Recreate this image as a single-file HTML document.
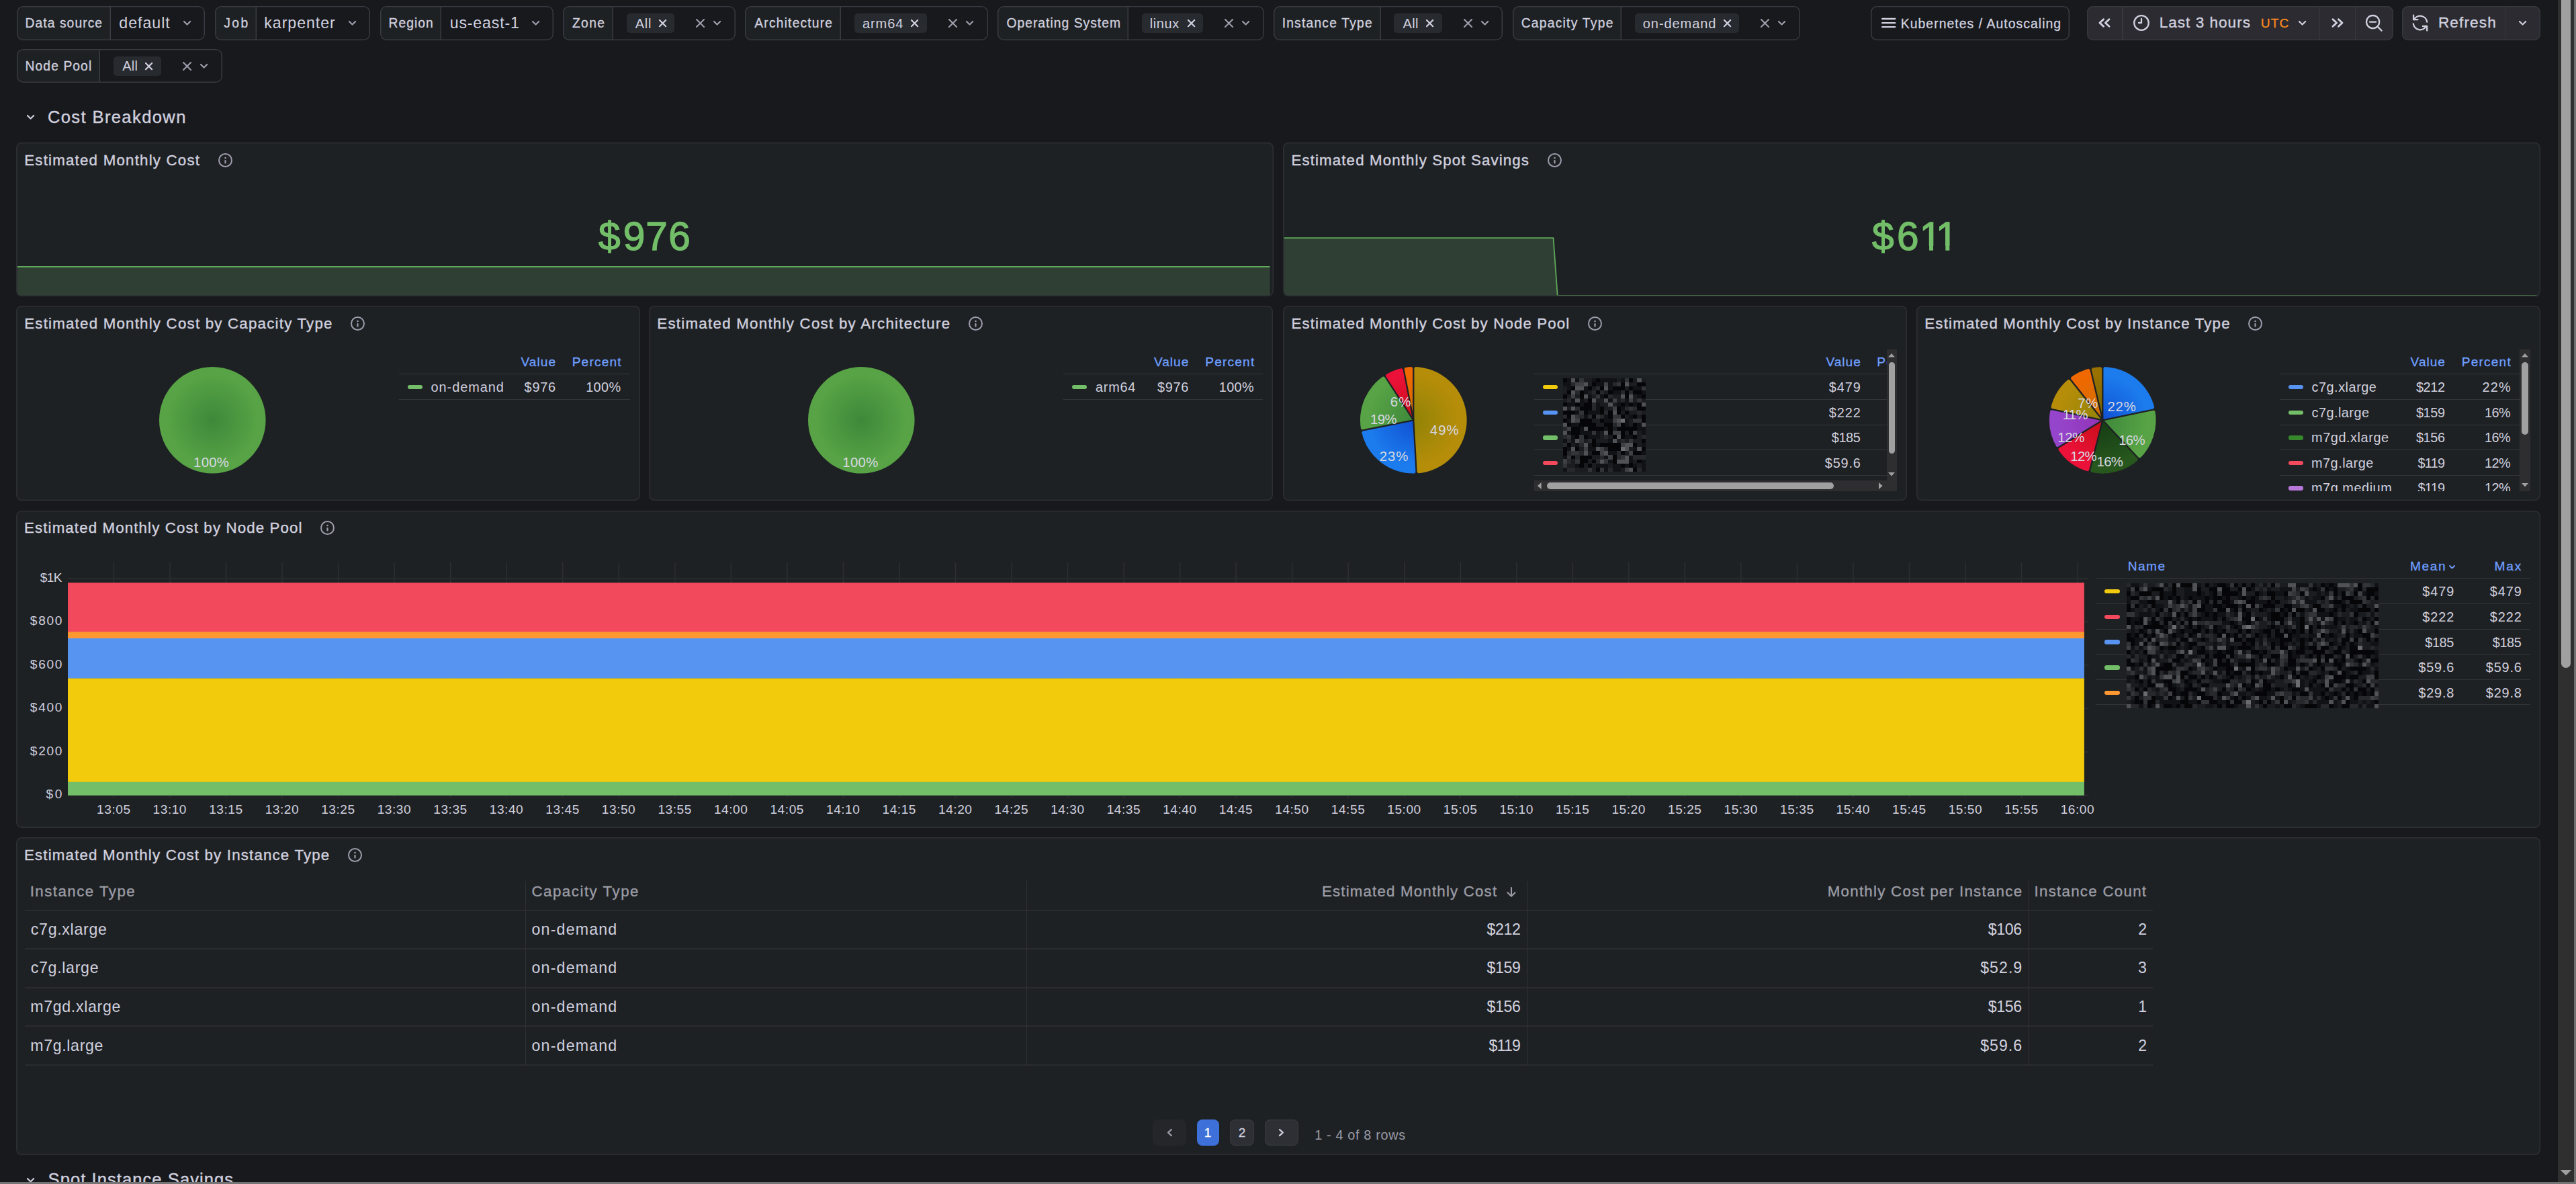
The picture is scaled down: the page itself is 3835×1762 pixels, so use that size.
<!DOCTYPE html>
<html lang="en"><head><meta charset="utf-8"><title>Kubernetes / Autoscaling / Karpenter / Cost</title>
<style>
html,body{margin:0;padding:0;background:#18191d;}
body{width:3835px;height:1762px;overflow:hidden;position:relative;font-family:"Liberation Sans",Arial,sans-serif;}
.b{position:absolute;box-sizing:border-box;}
.t{position:absolute;white-space:pre;}
svg{display:block;overflow:visible;}
</style></head><body>
<main class="b" style="left:0;top:0;width:3835px;height:1762px;overflow:hidden">
<div class="b" style="left:25.20px;top:9.30px;width:279.50px;height:50.30px;background:#18191d;border-radius:9px;overflow:hidden;"><div class="b" style="left:0;top:0;bottom:0;width:139.75px;background:#1e2124;box-shadow:inset -1.5px 0 0 #393b42"></div><div class="b" style="left:0;top:0;right:0;bottom:0;border-radius:inherit;box-shadow:inset 0 0 0 1.5px #393b42"></div></div>
<span class="t" style="left:37.56px;top:25.00px;font-size:19.3px;line-height:19.3px;color:#d0d0df;letter-spacing:1.058px;-webkit-text-stroke:0.3px #d0d0df;">Data source</span>
<span class="t" style="left:177.27px;top:23.00px;font-size:23.19px;line-height:23.19px;color:#d0d0df;letter-spacing:0.977px;">default</span>
<svg class="b" style="left:271.20px;top:29.31px;" width="15.20" height="10.58" viewBox="271.20 29.31 15.20 10.58"><g fill="none" stroke="#9c9dab" stroke-width="2.2" stroke-linecap="round" stroke-linejoin="round"><path d="M274.20 32.31L278.80 36.89L283.40 32.31"/></g></svg>
<div class="b" style="left:320.00px;top:9.30px;width:230.70px;height:50.30px;background:#18191d;border-radius:9px;overflow:hidden;"><div class="b" style="left:0;top:0;bottom:0;width:62.35px;background:#1e2124;box-shadow:inset -1.5px 0 0 #393b42"></div><div class="b" style="left:0;top:0;right:0;bottom:0;border-radius:inherit;box-shadow:inset 0 0 0 1.5px #393b42"></div></div>
<span class="t" style="left:333.31px;top:25.00px;font-size:19.3px;line-height:19.3px;color:#d0d0df;letter-spacing:2.433px;-webkit-text-stroke:0.3px #d0d0df;">Job</span>
<span class="t" style="left:393.29px;top:23.00px;font-size:23.19px;line-height:23.19px;color:#d0d0df;letter-spacing:0.942px;">karpenter</span>
<svg class="b" style="left:517.00px;top:29.31px;" width="15.20" height="10.58" viewBox="517.00 29.31 15.20 10.58"><g fill="none" stroke="#9c9dab" stroke-width="2.2" stroke-linecap="round" stroke-linejoin="round"><path d="M520.00 32.31L524.60 36.89L529.20 32.31"/></g></svg>
<div class="b" style="left:566.10px;top:9.30px;width:257.60px;height:50.30px;background:#18191d;border-radius:9px;overflow:hidden;"><div class="b" style="left:0;top:0;bottom:0;width:91.15px;background:#1e2124;box-shadow:inset -1.5px 0 0 #393b42"></div><div class="b" style="left:0;top:0;right:0;bottom:0;border-radius:inherit;box-shadow:inset 0 0 0 1.5px #393b42"></div></div>
<span class="t" style="left:578.56px;top:25.00px;font-size:19.3px;line-height:19.3px;color:#d0d0df;letter-spacing:1.032px;-webkit-text-stroke:0.3px #d0d0df;">Region</span>
<span class="t" style="left:669.71px;top:23.00px;font-size:23.19px;line-height:23.19px;color:#d0d0df;letter-spacing:0.812px;">us-east-1</span>
<svg class="b" style="left:790.30px;top:29.31px;" width="15.20" height="10.58" viewBox="790.30 29.31 15.20 10.58"><g fill="none" stroke="#9c9dab" stroke-width="2.2" stroke-linecap="round" stroke-linejoin="round"><path d="M793.30 32.31L797.90 36.89L802.50 32.31"/></g></svg>
<div class="b" style="left:838.20px;top:9.30px;width:256.60px;height:50.30px;background:#18191d;border-radius:9px;overflow:hidden;"><div class="b" style="left:0;top:0;bottom:0;width:75.05px;background:#1e2124;box-shadow:inset -1.5px 0 0 #393b42"></div><div class="b" style="left:0;top:0;right:0;bottom:0;border-radius:inherit;box-shadow:inset 0 0 0 1.5px #393b42"></div></div>
<span class="t" style="left:852.02px;top:25.00px;font-size:19.3px;line-height:19.3px;color:#d0d0df;letter-spacing:1.327px;-webkit-text-stroke:0.3px #d0d0df;">Zone</span>
<div class="b" style="left:932.70px;top:20.30px;width:71.30px;height:28.60px;background:#272a2f;border-radius:5px;"></div>
<span class="t" style="left:945.80px;top:25.00px;font-size:20.07px;line-height:20.07px;color:#d0d0df;letter-spacing:0.621px;">All</span>
<svg class="b" style="left:978.60px;top:26.90px;" width="15.20" height="15.20" viewBox="978.60 26.90 15.20 15.20"><g fill="none" stroke="#d0d0df" stroke-width="2.2" stroke-linecap="round" stroke-linejoin="round"><path d="M981.60 29.90L990.80 39.10M990.80 29.90L981.60 39.10"/></g></svg>
<svg class="b" style="left:1034.25px;top:25.75px;" width="17.10" height="17.10" viewBox="1034.25 25.75 17.10 17.10"><g fill="none" stroke="#9c9dab" stroke-width="2.1" stroke-linecap="round" stroke-linejoin="round"><path d="M1037.25 28.75L1048.35 39.85M1048.35 28.75L1037.25 39.85"/></g></svg>
<svg class="b" style="left:1060.40px;top:29.31px;" width="15.20" height="10.58" viewBox="1060.40 29.31 15.20 10.58"><g fill="none" stroke="#9c9dab" stroke-width="2.2" stroke-linecap="round" stroke-linejoin="round"><path d="M1063.40 32.31L1068.00 36.89L1072.60 32.31"/></g></svg>
<div class="b" style="left:1109.10px;top:9.30px;width:361.80px;height:50.30px;background:#18191d;border-radius:9px;overflow:hidden;"><div class="b" style="left:0;top:0;bottom:0;width:143.05px;background:#1e2124;box-shadow:inset -1.5px 0 0 #393b42"></div><div class="b" style="left:0;top:0;right:0;bottom:0;border-radius:inherit;box-shadow:inset 0 0 0 1.5px #393b42"></div></div>
<span class="t" style="left:1123.30px;top:25.00px;font-size:19.3px;line-height:19.3px;color:#d0d0df;letter-spacing:1.174px;-webkit-text-stroke:0.3px #d0d0df;">Architecture</span>
<div class="b" style="left:1271.90px;top:20.30px;width:108.10px;height:28.60px;background:#272a2f;border-radius:5px;"></div>
<span class="t" style="left:1283.90px;top:25.00px;font-size:20.07px;line-height:20.07px;color:#d0d0df;letter-spacing:0.909px;">arm64</span>
<svg class="b" style="left:1354.40px;top:26.90px;" width="15.20" height="15.20" viewBox="1354.40 26.90 15.20 15.20"><g fill="none" stroke="#d0d0df" stroke-width="2.2" stroke-linecap="round" stroke-linejoin="round"><path d="M1357.40 29.90L1366.60 39.10M1366.60 29.90L1357.40 39.10"/></g></svg>
<svg class="b" style="left:1410.25px;top:25.75px;" width="17.10" height="17.10" viewBox="1410.25 25.75 17.10 17.10"><g fill="none" stroke="#9c9dab" stroke-width="2.1" stroke-linecap="round" stroke-linejoin="round"><path d="M1413.25 28.75L1424.35 39.85M1424.35 28.75L1413.25 39.85"/></g></svg>
<svg class="b" style="left:1436.40px;top:29.31px;" width="15.20" height="10.58" viewBox="1436.40 29.31 15.20 10.58"><g fill="none" stroke="#9c9dab" stroke-width="2.2" stroke-linecap="round" stroke-linejoin="round"><path d="M1439.40 32.31L1444.00 36.89L1448.60 32.31"/></g></svg>
<div class="b" style="left:1485.30px;top:9.30px;width:396.50px;height:50.30px;background:#18191d;border-radius:9px;overflow:hidden;"><div class="b" style="left:0;top:0;bottom:0;width:194.75px;background:#1e2124;box-shadow:inset -1.5px 0 0 #393b42"></div><div class="b" style="left:0;top:0;right:0;bottom:0;border-radius:inherit;box-shadow:inset 0 0 0 1.5px #393b42"></div></div>
<span class="t" style="left:1498.43px;top:25.00px;font-size:19.3px;line-height:19.3px;color:#d0d0df;letter-spacing:1.021px;-webkit-text-stroke:0.3px #d0d0df;">Operating System</span>
<div class="b" style="left:1700.10px;top:20.30px;width:90.80px;height:28.60px;background:#272a2f;border-radius:5px;"></div>
<span class="t" style="left:1711.80px;top:25.00px;font-size:20.07px;line-height:20.07px;color:#d0d0df;letter-spacing:0.532px;">linux</span>
<svg class="b" style="left:1765.50px;top:26.90px;" width="15.20" height="15.20" viewBox="1765.50 26.90 15.20 15.20"><g fill="none" stroke="#d0d0df" stroke-width="2.2" stroke-linecap="round" stroke-linejoin="round"><path d="M1768.50 29.90L1777.70 39.10M1777.70 29.90L1768.50 39.10"/></g></svg>
<svg class="b" style="left:1821.15px;top:25.75px;" width="17.10" height="17.10" viewBox="1821.15 25.75 17.10 17.10"><g fill="none" stroke="#9c9dab" stroke-width="2.1" stroke-linecap="round" stroke-linejoin="round"><path d="M1824.15 28.75L1835.25 39.85M1835.25 28.75L1824.15 39.85"/></g></svg>
<svg class="b" style="left:1847.30px;top:29.31px;" width="15.20" height="10.58" viewBox="1847.30 29.31 15.20 10.58"><g fill="none" stroke="#9c9dab" stroke-width="2.2" stroke-linecap="round" stroke-linejoin="round"><path d="M1850.30 32.31L1854.90 36.89L1859.50 32.31"/></g></svg>
<div class="b" style="left:1896.20px;top:9.30px;width:340.50px;height:50.30px;background:#18191d;border-radius:9px;overflow:hidden;"><div class="b" style="left:0;top:0;bottom:0;width:159.85px;background:#1e2124;box-shadow:inset -1.5px 0 0 #393b42"></div><div class="b" style="left:0;top:0;right:0;bottom:0;border-radius:inherit;box-shadow:inset 0 0 0 1.5px #393b42"></div></div>
<span class="t" style="left:1908.66px;top:25.00px;font-size:19.3px;line-height:19.3px;color:#d0d0df;letter-spacing:1.193px;-webkit-text-stroke:0.3px #d0d0df;">Instance Type</span>
<div class="b" style="left:2075.10px;top:20.30px;width:71.70px;height:28.60px;background:#272a2f;border-radius:5px;"></div>
<span class="t" style="left:2088.60px;top:25.00px;font-size:20.07px;line-height:20.07px;color:#d0d0df;letter-spacing:0.321px;">All</span>
<svg class="b" style="left:2120.80px;top:26.90px;" width="15.20" height="15.20" viewBox="2120.80 26.90 15.20 15.20"><g fill="none" stroke="#d0d0df" stroke-width="2.2" stroke-linecap="round" stroke-linejoin="round"><path d="M2123.80 29.90L2133.00 39.10M2133.00 29.90L2123.80 39.10"/></g></svg>
<svg class="b" style="left:2177.05px;top:25.75px;" width="17.10" height="17.10" viewBox="2177.05 25.75 17.10 17.10"><g fill="none" stroke="#9c9dab" stroke-width="2.1" stroke-linecap="round" stroke-linejoin="round"><path d="M2180.05 28.75L2191.15 39.85M2191.15 28.75L2180.05 39.85"/></g></svg>
<svg class="b" style="left:2203.20px;top:29.31px;" width="15.20" height="10.58" viewBox="2203.20 29.31 15.20 10.58"><g fill="none" stroke="#9c9dab" stroke-width="2.2" stroke-linecap="round" stroke-linejoin="round"><path d="M2206.20 32.31L2210.80 36.89L2215.40 32.31"/></g></svg>
<div class="b" style="left:2252.10px;top:9.30px;width:427.50px;height:50.30px;background:#18191d;border-radius:9px;overflow:hidden;"><div class="b" style="left:0;top:0;bottom:0;width:162.25px;background:#1e2124;box-shadow:inset -1.5px 0 0 #393b42"></div><div class="b" style="left:0;top:0;right:0;bottom:0;border-radius:inherit;box-shadow:inset 0 0 0 1.5px #393b42"></div></div>
<span class="t" style="left:2264.63px;top:25.00px;font-size:19.3px;line-height:19.3px;color:#d0d0df;letter-spacing:1.243px;-webkit-text-stroke:0.3px #d0d0df;">Capacity Type</span>
<div class="b" style="left:2433.80px;top:20.30px;width:155.20px;height:28.60px;background:#272a2f;border-radius:5px;"></div>
<span class="t" style="left:2445.80px;top:25.00px;font-size:20.07px;line-height:20.07px;color:#d0d0df;letter-spacing:0.899px;">on-demand</span>
<svg class="b" style="left:2563.80px;top:26.90px;" width="15.20" height="15.20" viewBox="2563.80 26.90 15.20 15.20"><g fill="none" stroke="#d0d0df" stroke-width="2.2" stroke-linecap="round" stroke-linejoin="round"><path d="M2566.80 29.90L2576.00 39.10M2576.00 29.90L2566.80 39.10"/></g></svg>
<svg class="b" style="left:2619.25px;top:25.75px;" width="17.10" height="17.10" viewBox="2619.25 25.75 17.10 17.10"><g fill="none" stroke="#9c9dab" stroke-width="2.1" stroke-linecap="round" stroke-linejoin="round"><path d="M2622.25 28.75L2633.35 39.85M2633.35 28.75L2622.25 39.85"/></g></svg>
<svg class="b" style="left:2645.40px;top:29.31px;" width="15.20" height="10.58" viewBox="2645.40 29.31 15.20 10.58"><g fill="none" stroke="#9c9dab" stroke-width="2.2" stroke-linecap="round" stroke-linejoin="round"><path d="M2648.40 32.31L2653.00 36.89L2657.60 32.31"/></g></svg>
<div class="b" style="left:25.20px;top:73.20px;width:305.60px;height:50.30px;background:#18191d;border-radius:9px;overflow:hidden;"><div class="b" style="left:0;top:0;bottom:0;width:123.95px;background:#1e2124;box-shadow:inset -1.5px 0 0 #393b42"></div><div class="b" style="left:0;top:0;right:0;bottom:0;border-radius:inherit;box-shadow:inset 0 0 0 1.5px #393b42"></div></div>
<span class="t" style="left:37.56px;top:89.00px;font-size:19.3px;line-height:19.3px;color:#d0d0df;letter-spacing:1.076px;-webkit-text-stroke:0.3px #d0d0df;">Node Pool</span>
<div class="b" style="left:169.10px;top:84.20px;width:70.80px;height:28.60px;background:#272a2f;border-radius:5px;"></div>
<span class="t" style="left:182.20px;top:88.00px;font-size:20.07px;line-height:20.07px;color:#d0d0df;letter-spacing:0.271px;">All</span>
<svg class="b" style="left:214.30px;top:90.80px;" width="15.20" height="15.20" viewBox="214.30 90.80 15.20 15.20"><g fill="none" stroke="#d0d0df" stroke-width="2.2" stroke-linecap="round" stroke-linejoin="round"><path d="M217.30 93.80L226.50 103.00M226.50 93.80L217.30 103.00"/></g></svg>
<svg class="b" style="left:270.15px;top:89.65px;" width="17.10" height="17.10" viewBox="270.15 89.65 17.10 17.10"><g fill="none" stroke="#9c9dab" stroke-width="2.1" stroke-linecap="round" stroke-linejoin="round"><path d="M273.15 92.65L284.25 103.75M284.25 92.65L273.15 103.75"/></g></svg>
<svg class="b" style="left:296.30px;top:93.21px;" width="15.20" height="10.58" viewBox="296.30 93.21 15.20 10.58"><g fill="none" stroke="#9c9dab" stroke-width="2.2" stroke-linecap="round" stroke-linejoin="round"><path d="M299.30 96.21L303.90 100.79L308.50 96.21"/></g></svg>
<div class="b" style="left:2785.10px;top:9.30px;width:295.90px;height:50.30px;background:#18191d;border-radius:9px;"><div class="b" style="left:0;top:0;right:0;bottom:0;border-radius:inherit;box-shadow:inset 0 0 0 1.5px #393b42"></div></div>
<svg class="b" style="left:2798.00px;top:24.00px;" width="28.00" height="21.00" viewBox="2798.00 24.00 28.00 21.00"><path d="M2802.2 28H2821.3M2802.2 34.2H2821.3M2802.2 40.2H2821.3" stroke="#d0d0df" stroke-width="2.3" stroke-linecap="round"/></svg>
<span class="t" style="left:2829.75px;top:26.00px;font-size:19.4px;line-height:19.4px;color:#d0d0df;letter-spacing:1.035px;-webkit-text-stroke:0.3px #d0d0df;">Kubernetes / Autoscaling</span>
<div class="b" style="left:3107.00px;top:8.80px;width:456.00px;height:51.20px;background:#2b2b31;border-radius:9px;"><div class="b" style="left:52.45px;top:0;bottom:0;width:1.5px;background:#37373e"></div><div class="b" style="left:345.55px;top:0;bottom:0;width:1.5px;background:#37373e"></div><div class="b" style="left:398.65px;top:0;bottom:0;width:1.5px;background:#37373e"></div><div class="b" style="left:0;top:0;right:0;bottom:0;border-radius:inherit;box-shadow:inset 0 0 0 1.5px #37373e"></div></div>
<svg class="b" style="left:3121.30px;top:24.30px;" width="24.00" height="20.00" viewBox="3121.30 24.30 24.00 20.00"><g fill="none" stroke="#d0d0df" stroke-width="2.9" stroke-linecap="round" stroke-linejoin="round"><path d="M3131.90 29.00L3126.30 34.30L3131.90 39.60"/><path d="M3140.30 29.00L3134.70 34.30L3140.30 39.60"/></g></svg>
<svg class="b" style="left:3174.30px;top:20.20px;" width="28.00" height="28.00" viewBox="3174.30 20.20 28.00 28.00"><g fill="none" stroke="#d0d0df" stroke-width="2.3" stroke-linecap="round" stroke-linejoin="round"><circle cx="3188.3" cy="34.2" r="10.8"/><path d="M3188.3 28.200000000000003V34.2H3184.3"/></g></svg>
<span class="t" style="left:3214.69px;top:23.00px;font-size:22.6px;line-height:22.6px;color:#d0d0df;letter-spacing:0.993px;-webkit-text-stroke:0.35px #d0d0df;">Last 3 hours</span>
<span class="t" style="left:3365.86px;top:25.00px;font-size:19.2px;line-height:19.2px;color:#fb8a1e;letter-spacing:1.047px;-webkit-text-stroke:0.3px #fb8a1e;">UTC</span>
<svg class="b" style="left:3419.60px;top:29.11px;" width="15.20" height="10.58" viewBox="3419.60 29.11 15.20 10.58"><g fill="none" stroke="#d0d0df" stroke-width="2.2" stroke-linecap="round" stroke-linejoin="round"><path d="M3422.60 32.11L3427.20 36.69L3431.80 32.11"/></g></svg>
<svg class="b" style="left:3468.20px;top:24.30px;" width="24.00" height="20.00" viewBox="3468.20 24.30 24.00 20.00"><g fill="none" stroke="#d0d0df" stroke-width="2.9" stroke-linecap="round" stroke-linejoin="round"><path d="M3473.20 29.00L3478.80 34.30L3473.20 39.60"/><path d="M3481.60 29.00L3487.20 34.30L3481.60 39.60"/></g></svg>
<svg class="b" style="left:3518.00px;top:18.00px;" width="32.00" height="32.00" viewBox="3518.00 18.00 32.00 32.00"><g fill="none" stroke="#d0d0df" stroke-width="2.3" stroke-linecap="round"><circle cx="3532.6" cy="32.6" r="9.6"/><path d="M3528.0 32.6H3537.2M3539.7999999999997 39.800000000000004L3545.6 45.6"/></g></svg>
<div class="b" style="left:3576.20px;top:8.80px;width:205.70px;height:51.20px;background:#2b2b31;border-radius:9px;"><div class="b" style="left:152.35px;top:0;bottom:0;width:1.5px;background:#37373e"></div><div class="b" style="left:0;top:0;right:0;bottom:0;border-radius:inherit;box-shadow:inset 0 0 0 1.5px #37373e"></div></div>
<svg class="b" style="left:3588.40px;top:19.30px;" width="30.00" height="30.00" viewBox="3588.40 19.30 30.00 30.00"><g fill="none" stroke="#d0d0df" stroke-width="2.3" stroke-linecap="round" stroke-linejoin="round"><path d="M3594.31 29.46A10.3 10.3 0 0 1 3613.60 32.87"/><path d="M3612.49 39.14A10.3 10.3 0 0 1 3593.20 35.73"/><path d="M3593.50 22.90V29.50H3599.80"/><path d="M3613.60 45.90V39.30H3607.30"/></g></svg>
<span class="t" style="left:3629.89px;top:23.00px;font-size:22.6px;line-height:22.6px;color:#d0d0df;letter-spacing:1.126px;-webkit-text-stroke:0.35px #d0d0df;">Refresh</span>
<svg class="b" style="left:3748.20px;top:29.11px;" width="15.20" height="10.58" viewBox="3748.20 29.11 15.20 10.58"><g fill="none" stroke="#d0d0df" stroke-width="2.2" stroke-linecap="round" stroke-linejoin="round"><path d="M3751.20 32.11L3755.80 36.69L3760.40 32.11"/></g></svg>
<svg class="b" style="left:38.30px;top:169.21px;" width="15.20" height="10.58" viewBox="38.30 169.21 15.20 10.58"><g fill="none" stroke="#d0d0df" stroke-width="2.2" stroke-linecap="round" stroke-linejoin="round"><path d="M41.30 172.21L45.90 176.79L50.50 172.21"/></g></svg>
<span class="t" style="left:70.92px;top:162.00px;font-size:25.6px;line-height:25.6px;color:#d0d0df;letter-spacing:1.363px;-webkit-text-stroke:0.4px #d0d0df;">Cost Breakdown</span>
<svg class="b" style="left:37.80px;top:1751.21px;" width="15.20" height="10.58" viewBox="37.80 1751.21 15.20 10.58"><g fill="none" stroke="#d0d0df" stroke-width="2.2" stroke-linecap="round" stroke-linejoin="round"><path d="M40.80 1754.21L45.40 1758.79L50.00 1754.21"/></g></svg>
<span class="t" style="left:71.55px;top:1743.00px;font-size:25.6px;line-height:25.6px;color:#d0d0df;letter-spacing:1.045px;-webkit-text-stroke:0.4px #d0d0df;">Spot Instance Savings</span>
<div class="b" style="left:24.40px;top:212.20px;width:1871.60px;height:228.80px;background:#1e2124;border-radius:8px;overflow:hidden;"><svg class="b" style="left:0;top:0" width="1871.6" height="228.8" viewBox="24.4 212.2 1871.6 228.8"><path d="M26 397.2H1891V441H26Z" fill="#2f3f33"/><path d="M26 397.2H1891" stroke="#5fa85a" stroke-width="2" fill="none"/></svg><div class="b" style="left:0;top:0;right:0;bottom:0;border-radius:inherit;box-shadow:inset 0 0 0 1.5px #2d2f35"></div></div>
<span class="t" style="left:36.22px;top:228.00px;font-size:22.3px;line-height:22.3px;color:#d0d0df;letter-spacing:1.208px;-webkit-text-stroke:0.4px #d0d0df;">Estimated Monthly Cost</span>
<svg class="b" style="left:323.40px;top:226.10px;" width="25.00" height="25.00" viewBox="323.40 226.10 25.00 25.00"><circle cx="335.9" cy="238.6" r="9.50" fill="none" stroke="#9c9dab" stroke-width="2"/><path d="M335.9 239.30V242.60" stroke="#9c9dab" stroke-width="2.2" stroke-linecap="round"/><circle cx="335.9" cy="235.10" r="1.3" fill="#9c9dab"/></svg>
<svg class="b" style="left:886.44px;top:313.40px;" width="167.81" height="76.18" viewBox="886.44 313.40 167.81 76.18"><text x="891.44 928.09 961.69 995.65" y="372" font-family="Liberation Sans, Arial, sans-serif" font-size="58.6" fill="#73bf69" stroke="#73bf69" stroke-width="1.3">$976</text></svg>
<div class="b" style="left:1910.30px;top:212.20px;width:1871.30px;height:228.80px;background:#1e2124;border-radius:8px;overflow:hidden;"><svg class="b" style="left:0;top:0" width="1871.3" height="228.8" viewBox="1910.3 212.2 1871.3 228.8"><path d="M1912 354.3H2312.8L2319 440.1H3780V441H1912Z" fill="#2f3f33"/><path d="M1912 354.3H2312.8L2319 440.1H3780" stroke="#5fa85a" stroke-width="1.8" fill="none" stroke-linejoin="round"/></svg><div class="b" style="left:0;top:0;right:0;bottom:0;border-radius:inherit;box-shadow:inset 0 0 0 1.5px #2d2f35"></div></div>
<span class="t" style="left:1922.42px;top:228.00px;font-size:22.3px;line-height:22.3px;color:#d0d0df;letter-spacing:1.125px;-webkit-text-stroke:0.4px #d0d0df;">Estimated Monthly Spot Savings</span>
<svg class="b" style="left:2301.70px;top:226.10px;" width="25.00" height="25.00" viewBox="2301.70 226.10 25.00 25.00"><circle cx="2314.2" cy="238.6" r="9.50" fill="none" stroke="#9c9dab" stroke-width="2"/><path d="M2314.2 239.30V242.60" stroke="#9c9dab" stroke-width="2.2" stroke-linecap="round"/><circle cx="2314.2" cy="235.10" r="1.3" fill="#9c9dab"/></svg>
<svg class="b" style="left:2782.44px;top:313.40px;" width="158.66" height="76.18" viewBox="2782.44 313.40 158.66 76.18"><text x="2787.44 2824.35 2858.20 2882.50" y="372" font-family="Liberation Sans, Arial, sans-serif" font-size="58.6" fill="#73bf69" stroke="#73bf69" stroke-width="1.3">$611</text><rect x="2861.20" y="366.30" width="11.30" height="8.00" fill="#1e2124"/><rect x="2878.50" y="366.30" width="11.00" height="8.00" fill="#1e2124"/><rect x="2885.50" y="366.30" width="11.30" height="8.00" fill="#1e2124"/><rect x="2902.80" y="366.30" width="11.00" height="8.00" fill="#1e2124"/></svg>
<div class="b" style="left:24.40px;top:455.40px;width:928.40px;height:290.10px;background:#1e2124;border-radius:8px;overflow:hidden;"><div class="b" style="left:0;top:0;right:0;bottom:0;border-radius:inherit;box-shadow:inset 0 0 0 1.5px #2d2f35"></div></div>
<span class="t" style="left:36.22px;top:471.00px;font-size:22.3px;line-height:22.3px;color:#d0d0df;letter-spacing:1.210px;-webkit-text-stroke:0.4px #d0d0df;">Estimated Monthly Cost by Capacity Type</span>
<svg class="b" style="left:520.30px;top:469.30px;" width="25.00" height="25.00" viewBox="520.30 469.30 25.00 25.00"><circle cx="532.8" cy="481.79999999999995" r="9.50" fill="none" stroke="#9c9dab" stroke-width="2"/><path d="M532.8 482.50V485.80" stroke="#9c9dab" stroke-width="2.2" stroke-linecap="round"/><circle cx="532.8" cy="478.30" r="1.3" fill="#9c9dab"/></svg>
<svg class="b" style="left:232.60px;top:542.10px;" width="166.60" height="166.60" viewBox="232.60 542.10 166.60 166.60"><defs><radialGradient id="ga0" gradientUnits="userSpaceOnUse" cx="315.9" cy="625.4" r="79.3"><stop offset="0" stop-color="#3e883a"/><stop offset="0.85" stop-color="#57a345"/><stop offset="1" stop-color="#57a345"/></radialGradient></defs><circle cx="315.9" cy="625.4" r="79.3" fill="url(#ga0)"/></svg>
<span class="t" style="left:288.07px;top:678.00px;font-size:20.38px;line-height:20.38px;color:#d8d8e2;letter-spacing:0.266px;">100%</span>
<span class="t" style="left:775.50px;top:529.00px;font-size:19.1px;line-height:19.1px;color:#6e9fff;letter-spacing:1.038px;-webkit-text-stroke:0.3px #6e9fff;">Value</span>
<span class="t" style="left:851.67px;top:529.00px;font-size:19.1px;line-height:19.1px;color:#6e9fff;letter-spacing:1.193px;-webkit-text-stroke:0.3px #6e9fff;">Percent</span>
<div class="b" style="left:594.00px;top:556.00px;width:344.00px;height:1.00px;background:#33353b;"></div>
<div class="b" style="left:594.00px;top:594.00px;width:344.00px;height:1.00px;background:#33353b;"></div>
<div class="b" style="left:606.90px;top:572.70px;width:22.20px;height:6.60px;background:#73bf69;border-radius:3.3px;"></div>
<span class="t" style="left:641.51px;top:567.00px;font-size:19.86px;line-height:19.86px;color:#d0d0df;letter-spacing:0.991px;">on-demand</span>
<span class="t" style="left:780.60px;top:567.00px;font-size:19.86px;line-height:19.86px;color:#d0d0df;letter-spacing:0.778px;">$976</span>
<span class="t" style="left:872.21px;top:567.00px;font-size:19.86px;line-height:19.86px;color:#d0d0df;letter-spacing:0.357px;">100%</span>
<div class="b" style="left:966.30px;top:455.40px;width:928.40px;height:290.10px;background:#1e2124;border-radius:8px;overflow:hidden;"><div class="b" style="left:0;top:0;right:0;bottom:0;border-radius:inherit;box-shadow:inset 0 0 0 1.5px #2d2f35"></div></div>
<span class="t" style="left:978.32px;top:471.00px;font-size:22.3px;line-height:22.3px;color:#d0d0df;letter-spacing:1.260px;-webkit-text-stroke:0.4px #d0d0df;">Estimated Monthly Cost by Architecture</span>
<svg class="b" style="left:1439.70px;top:469.30px;" width="25.00" height="25.00" viewBox="1439.70 469.30 25.00 25.00"><circle cx="1452.2" cy="481.79999999999995" r="9.50" fill="none" stroke="#9c9dab" stroke-width="2"/><path d="M1452.2 482.50V485.80" stroke="#9c9dab" stroke-width="2.2" stroke-linecap="round"/><circle cx="1452.2" cy="478.30" r="1.3" fill="#9c9dab"/></svg>
<svg class="b" style="left:1199.10px;top:542.30px;" width="166.60" height="166.60" viewBox="1199.10 542.30 166.60 166.60"><defs><radialGradient id="gb0" gradientUnits="userSpaceOnUse" cx="1282.4" cy="625.6" r="79.3"><stop offset="0" stop-color="#3e883a"/><stop offset="0.85" stop-color="#57a345"/><stop offset="1" stop-color="#57a345"/></radialGradient></defs><circle cx="1282.4" cy="625.6" r="79.3" fill="url(#gb0)"/></svg>
<span class="t" style="left:1254.37px;top:678.00px;font-size:20.38px;line-height:20.38px;color:#d8d8e2;letter-spacing:0.266px;">100%</span>
<span class="t" style="left:1717.90px;top:529.00px;font-size:19.1px;line-height:19.1px;color:#6e9fff;letter-spacing:1.013px;-webkit-text-stroke:0.3px #6e9fff;">Value</span>
<span class="t" style="left:1794.27px;top:529.00px;font-size:19.1px;line-height:19.1px;color:#6e9fff;letter-spacing:1.193px;-webkit-text-stroke:0.3px #6e9fff;">Percent</span>
<div class="b" style="left:1583.00px;top:556.00px;width:297.00px;height:1.00px;background:#33353b;"></div>
<div class="b" style="left:1583.00px;top:594.00px;width:297.00px;height:1.00px;background:#33353b;"></div>
<div class="b" style="left:1596.30px;top:572.70px;width:22.20px;height:6.60px;background:#73bf69;border-radius:3.3px;"></div>
<span class="t" style="left:1630.91px;top:567.00px;font-size:19.86px;line-height:19.86px;color:#d0d0df;letter-spacing:0.805px;">arm64</span>
<span class="t" style="left:1722.90px;top:567.00px;font-size:19.86px;line-height:19.86px;color:#d0d0df;letter-spacing:0.778px;">$976</span>
<span class="t" style="left:1814.81px;top:567.00px;font-size:19.86px;line-height:19.86px;color:#d0d0df;letter-spacing:0.357px;">100%</span>
<div class="b" style="left:1910.30px;top:455.40px;width:928.40px;height:290.10px;background:#1e2124;border-radius:8px;overflow:hidden;"><div class="b" style="left:0;top:0;right:0;bottom:0;border-radius:inherit;box-shadow:inset 0 0 0 1.5px #2d2f35"></div></div>
<span class="t" style="left:1922.42px;top:471.00px;font-size:22.3px;line-height:22.3px;color:#d0d0df;letter-spacing:1.129px;-webkit-text-stroke:0.4px #d0d0df;">Estimated Monthly Cost by Node Pool</span>
<svg class="b" style="left:2361.80px;top:469.30px;" width="25.00" height="25.00" viewBox="2361.80 469.30 25.00 25.00"><circle cx="2374.3" cy="481.79999999999995" r="9.50" fill="none" stroke="#9c9dab" stroke-width="2"/><path d="M2374.3 482.50V485.80" stroke="#9c9dab" stroke-width="2.2" stroke-linecap="round"/><circle cx="2374.3" cy="478.30" r="1.3" fill="#9c9dab"/></svg>
<svg class="b" style="left:2020.90px;top:542.10px;" width="166.60" height="166.60" viewBox="2020.90 542.10 166.60 166.60"><defs><radialGradient id="gc0" gradientUnits="userSpaceOnUse" cx="2104.2" cy="625.4" r="79.3"><stop offset="0" stop-color="#918307"/><stop offset="0.85" stop-color="#b58d09"/><stop offset="1" stop-color="#b58d09"/></radialGradient><radialGradient id="gc1" gradientUnits="userSpaceOnUse" cx="2104.2" cy="625.4" r="79.3"><stop offset="0" stop-color="#1050d3"/><stop offset="0.85" stop-color="#1c7ced"/><stop offset="1" stop-color="#1c7ced"/></radialGradient><radialGradient id="gc2" gradientUnits="userSpaceOnUse" cx="2104.2" cy="625.4" r="79.3"><stop offset="0" stop-color="#3e883a"/><stop offset="0.85" stop-color="#57a345"/><stop offset="1" stop-color="#57a345"/></radialGradient><radialGradient id="gc3" gradientUnits="userSpaceOnUse" cx="2104.2" cy="625.4" r="79.3"><stop offset="0" stop-color="#c70e17"/><stop offset="0.85" stop-color="#eb1138"/><stop offset="1" stop-color="#eb1138"/></radialGradient><radialGradient id="gc4" gradientUnits="userSpaceOnUse" cx="2104.2" cy="625.4" r="79.3"><stop offset="0" stop-color="#c97200"/><stop offset="0.85" stop-color="#ef6800"/><stop offset="1" stop-color="#ef6800"/></radialGradient></defs><path d="M2104.2 625.4L2104.20 546.10A79.3 79.3 0 0 1 2108.64 704.58Z" fill="url(#gc0)"/><path d="M2104.2 625.4L2108.64 704.58A79.3 79.3 0 0 1 2026.43 640.91Z" fill="url(#gc1)"/><path d="M2104.2 625.4L2026.43 640.91A79.3 79.3 0 0 1 2061.02 558.89Z" fill="url(#gc2)"/><path d="M2104.2 625.4L2061.02 558.89A79.3 79.3 0 0 1 2089.07 547.56Z" fill="url(#gc3)"/><path d="M2104.2 625.4L2089.07 547.56A79.3 79.3 0 0 1 2104.20 546.10Z" fill="url(#gc4)"/><path d="M2104.2 625.4L2104.20 544.60" stroke="#1e2124" stroke-width="2.3"/><circle cx="2104.20" cy="545.20" r="2.7" fill="#1e2124"/><path d="M2104.2 625.4L2108.73 706.07" stroke="#1e2124" stroke-width="2.3"/><circle cx="2108.69" cy="705.47" r="2.7" fill="#1e2124"/><path d="M2104.2 625.4L2024.96 641.20" stroke="#1e2124" stroke-width="2.3"/><circle cx="2025.55" cy="641.08" r="2.7" fill="#1e2124"/><path d="M2104.2 625.4L2060.20 557.63" stroke="#1e2124" stroke-width="2.3"/><circle cx="2060.53" cy="558.14" r="2.7" fill="#1e2124"/><path d="M2104.2 625.4L2088.78 546.08" stroke="#1e2124" stroke-width="2.3"/><circle cx="2088.90" cy="546.67" r="2.7" fill="#1e2124"/></svg>
<span class="t" style="left:2128.79px;top:630.00px;font-size:20.38px;line-height:20.38px;color:#d8d8e2;letter-spacing:1.057px;">49%</span>
<span class="t" style="left:2053.68px;top:669.00px;font-size:20.38px;line-height:20.38px;color:#d8d8e2;letter-spacing:0.962px;">23%</span>
<span class="t" style="left:2040.07px;top:614.00px;font-size:20.38px;line-height:20.38px;color:#d8d8e2;letter-spacing:-0.633px;">19%</span>
<span class="t" style="left:2069.68px;top:588.00px;font-size:20.38px;line-height:20.38px;color:#d8d8e2;letter-spacing:1.359px;">6%</span>
<span class="t" style="left:2718.40px;top:529.00px;font-size:19.1px;line-height:19.1px;color:#6e9fff;letter-spacing:0.988px;-webkit-text-stroke:0.3px #6e9fff;">Value</span>
<div class="b" style="left:2780px;top:520px;width:28.6px;height:36px;overflow:hidden"><div class="b" style="left:-2780px;top:-520px">
<span class="t" style="left:2794.27px;top:529.00px;font-size:19.1px;line-height:19.1px;color:#6e9fff;letter-spacing:1.193px;-webkit-text-stroke:0.3px #6e9fff;">Percent</span>
</div></div>
<div class="b" style="left:2284.00px;top:556.00px;width:525.00px;height:1.00px;background:#33353b;"></div>
<div class="b" style="left:2284.00px;top:594.00px;width:525.00px;height:1.00px;background:#33353b;"></div>
<div class="b" style="left:2284.00px;top:632.00px;width:525.00px;height:1.00px;background:#33353b;"></div>
<div class="b" style="left:2284.00px;top:669.00px;width:525.00px;height:1.00px;background:#33353b;"></div>
<div class="b" style="left:2284.00px;top:707.00px;width:525.00px;height:1.00px;background:#33353b;"></div>
<div class="b" style="left:2297.30px;top:572.85px;width:21.60px;height:6.60px;background:#f2cc0c;border-radius:3.3px;"></div>
<span class="t" style="left:2722.67px;top:567.00px;font-size:19.86px;line-height:19.86px;color:#d0d0df;letter-spacing:1.020px;">$479</span>
<div class="b" style="left:2297.30px;top:610.65px;width:21.60px;height:6.60px;background:#5794f2;border-radius:3.3px;"></div>
<span class="t" style="left:2722.67px;top:605.00px;font-size:19.86px;line-height:19.86px;color:#d0d0df;letter-spacing:1.020px;">$222</span>
<div class="b" style="left:2297.30px;top:648.20px;width:21.60px;height:6.60px;background:#73bf69;border-radius:3.3px;"></div>
<span class="t" style="left:2726.69px;top:642.00px;font-size:19.86px;line-height:19.86px;color:#d0d0df;letter-spacing:-0.350px;">$185</span>
<div class="b" style="left:2297.30px;top:685.65px;width:21.60px;height:6.60px;background:#f2495c;border-radius:3.3px;"></div>
<span class="t" style="left:2716.75px;top:680.00px;font-size:19.86px;line-height:19.86px;color:#d0d0df;letter-spacing:0.841px;">$59.6</span>
<svg class="b" style="left:2327.10px;top:562.90px;shape-rendering:crispEdges;" width="122.70" height="138.60" viewBox="2327.10 562.90 122.70 138.60"><rect x="2327.1" y="562.9" width="122.70000000000027" height="138.60000000000002" fill="#111215"/><path d="M2327.1 562.9h6.14v6.03h-6.14zM2376.2 562.9h6.14v6.03h-6.14zM2425.3 562.9h6.14v6.03h-6.14zM2370.0 568.9h6.14v6.03h-6.14zM2413.0 568.9h6.14v6.03h-6.14zM2437.5 568.9h6.14v6.03h-6.14zM2443.7 568.9h6.14v6.03h-6.14zM2339.4 575.0h6.14v6.03h-6.14zM2363.9 575.0h6.14v6.03h-6.14zM2382.3 575.0h6.14v6.03h-6.14zM2400.7 575.0h6.14v6.03h-6.14zM2406.9 575.0h6.14v6.03h-6.14zM2413.0 575.0h6.14v6.03h-6.14zM2425.3 575.0h6.14v6.03h-6.14zM2333.2 581.0h6.14v6.03h-6.14zM2351.6 581.0h6.14v6.03h-6.14zM2376.2 581.0h6.14v6.03h-6.14zM2394.6 581.0h6.14v6.03h-6.14zM2419.1 581.0h6.14v6.03h-6.14zM2431.4 581.0h6.14v6.03h-6.14zM2437.5 581.0h6.14v6.03h-6.14zM2327.1 587.0h6.14v6.03h-6.14zM2351.6 587.0h6.14v6.03h-6.14zM2388.4 587.0h6.14v6.03h-6.14zM2419.1 587.0h6.14v6.03h-6.14zM2443.7 587.0h6.14v6.03h-6.14zM2363.9 593.0h6.14v6.03h-6.14zM2327.1 599.1h6.14v6.03h-6.14zM2345.5 599.1h6.14v6.03h-6.14zM2357.8 599.1h6.14v6.03h-6.14zM2363.9 599.1h6.14v6.03h-6.14zM2413.0 599.1h6.14v6.03h-6.14zM2425.3 599.1h6.14v6.03h-6.14zM2437.5 599.1h6.14v6.03h-6.14zM2351.6 605.1h6.14v6.03h-6.14zM2357.8 605.1h6.14v6.03h-6.14zM2363.9 605.1h6.14v6.03h-6.14zM2382.3 605.1h6.14v6.03h-6.14zM2406.9 605.1h6.14v6.03h-6.14zM2437.5 605.1h6.14v6.03h-6.14zM2443.7 605.1h6.14v6.03h-6.14zM2327.1 611.1h6.14v6.03h-6.14zM2333.2 611.1h6.14v6.03h-6.14zM2339.4 611.1h6.14v6.03h-6.14zM2357.8 611.1h6.14v6.03h-6.14zM2382.3 611.1h6.14v6.03h-6.14zM2394.6 611.1h6.14v6.03h-6.14zM2406.9 611.1h6.14v6.03h-6.14zM2419.1 611.1h6.14v6.03h-6.14zM2333.2 617.1h6.14v6.03h-6.14zM2370.0 617.1h6.14v6.03h-6.14zM2394.6 617.1h6.14v6.03h-6.14zM2413.0 617.1h6.14v6.03h-6.14zM2431.4 617.1h6.14v6.03h-6.14zM2443.7 617.1h6.14v6.03h-6.14zM2327.1 623.2h6.14v6.03h-6.14zM2351.6 623.2h6.14v6.03h-6.14zM2357.8 623.2h6.14v6.03h-6.14zM2363.9 623.2h6.14v6.03h-6.14zM2382.3 623.2h6.14v6.03h-6.14zM2443.7 623.2h6.14v6.03h-6.14zM2333.2 629.2h6.14v6.03h-6.14zM2351.6 629.2h6.14v6.03h-6.14zM2357.8 629.2h6.14v6.03h-6.14zM2363.9 629.2h6.14v6.03h-6.14zM2370.0 629.2h6.14v6.03h-6.14zM2388.4 629.2h6.14v6.03h-6.14zM2394.6 629.2h6.14v6.03h-6.14zM2413.0 629.2h6.14v6.03h-6.14zM2431.4 629.2h6.14v6.03h-6.14zM2339.4 635.2h6.14v6.03h-6.14zM2345.5 635.2h6.14v6.03h-6.14zM2363.9 635.2h6.14v6.03h-6.14zM2370.0 635.2h6.14v6.03h-6.14zM2376.2 635.2h6.14v6.03h-6.14zM2382.3 635.2h6.14v6.03h-6.14zM2394.6 635.2h6.14v6.03h-6.14zM2406.9 635.2h6.14v6.03h-6.14zM2413.0 635.2h6.14v6.03h-6.14zM2419.1 635.2h6.14v6.03h-6.14zM2425.3 635.2h6.14v6.03h-6.14zM2431.4 635.2h6.14v6.03h-6.14zM2339.4 641.2h6.14v6.03h-6.14zM2345.5 641.2h6.14v6.03h-6.14zM2394.6 641.2h6.14v6.03h-6.14zM2413.0 641.2h6.14v6.03h-6.14zM2425.3 641.2h6.14v6.03h-6.14zM2345.5 647.3h6.14v6.03h-6.14zM2357.8 647.3h6.14v6.03h-6.14zM2400.7 647.3h6.14v6.03h-6.14zM2413.0 647.3h6.14v6.03h-6.14zM2431.4 647.3h6.14v6.03h-6.14zM2370.0 653.3h6.14v6.03h-6.14zM2443.7 653.3h6.14v6.03h-6.14zM2333.2 659.3h6.14v6.03h-6.14zM2370.0 659.3h6.14v6.03h-6.14zM2382.3 659.3h6.14v6.03h-6.14zM2388.4 659.3h6.14v6.03h-6.14zM2394.6 659.3h6.14v6.03h-6.14zM2400.7 659.3h6.14v6.03h-6.14zM2406.9 659.3h6.14v6.03h-6.14zM2431.4 659.3h6.14v6.03h-6.14zM2327.1 665.3h6.14v6.03h-6.14zM2345.5 665.3h6.14v6.03h-6.14zM2394.6 665.3h6.14v6.03h-6.14zM2400.7 665.3h6.14v6.03h-6.14zM2406.9 665.3h6.14v6.03h-6.14zM2443.7 665.3h6.14v6.03h-6.14zM2327.1 671.4h6.14v6.03h-6.14zM2370.0 671.4h6.14v6.03h-6.14zM2376.2 671.4h6.14v6.03h-6.14zM2413.0 671.4h6.14v6.03h-6.14zM2431.4 671.4h6.14v6.03h-6.14zM2437.5 671.4h6.14v6.03h-6.14zM2339.4 677.4h6.14v6.03h-6.14zM2351.6 677.4h6.14v6.03h-6.14zM2357.8 677.4h6.14v6.03h-6.14zM2363.9 677.4h6.14v6.03h-6.14zM2400.7 677.4h6.14v6.03h-6.14zM2351.6 683.4h6.14v6.03h-6.14zM2357.8 683.4h6.14v6.03h-6.14zM2370.0 683.4h6.14v6.03h-6.14zM2400.7 683.4h6.14v6.03h-6.14zM2437.5 683.4h6.14v6.03h-6.14zM2351.6 689.4h6.14v6.03h-6.14zM2363.9 689.4h6.14v6.03h-6.14zM2413.0 689.4h6.14v6.03h-6.14zM2425.3 689.4h6.14v6.03h-6.14zM2376.2 695.5h6.14v6.03h-6.14zM2431.4 695.5h6.14v6.03h-6.14z" fill="#060608"/><path d="M2339.4 562.9h6.14v6.03h-6.14zM2437.5 562.9h6.14v6.03h-6.14zM2357.8 568.9h6.14v6.03h-6.14zM2419.1 568.9h6.14v6.03h-6.14zM2345.5 575.0h6.14v6.03h-6.14zM2351.6 575.0h6.14v6.03h-6.14zM2388.4 575.0h6.14v6.03h-6.14zM2339.4 581.0h6.14v6.03h-6.14zM2357.8 587.0h6.14v6.03h-6.14zM2413.0 587.0h6.14v6.03h-6.14zM2425.3 587.0h6.14v6.03h-6.14zM2345.5 593.0h6.14v6.03h-6.14zM2370.0 593.0h6.14v6.03h-6.14zM2388.4 593.0h6.14v6.03h-6.14zM2394.6 599.1h6.14v6.03h-6.14zM2443.7 599.1h6.14v6.03h-6.14zM2327.1 605.1h6.14v6.03h-6.14zM2339.4 605.1h6.14v6.03h-6.14zM2400.7 611.1h6.14v6.03h-6.14zM2339.4 617.1h6.14v6.03h-6.14zM2339.4 623.2h6.14v6.03h-6.14zM2406.9 623.2h6.14v6.03h-6.14zM2327.1 629.2h6.14v6.03h-6.14zM2443.7 629.2h6.14v6.03h-6.14zM2357.8 635.2h6.14v6.03h-6.14zM2327.1 641.2h6.14v6.03h-6.14zM2388.4 641.2h6.14v6.03h-6.14zM2406.9 647.3h6.14v6.03h-6.14zM2345.5 653.3h6.14v6.03h-6.14zM2400.7 653.3h6.14v6.03h-6.14zM2357.8 659.3h6.14v6.03h-6.14zM2419.1 659.3h6.14v6.03h-6.14zM2425.3 659.3h6.14v6.03h-6.14zM2339.4 665.3h6.14v6.03h-6.14zM2376.2 665.3h6.14v6.03h-6.14zM2419.1 665.3h6.14v6.03h-6.14zM2437.5 665.3h6.14v6.03h-6.14zM2357.8 671.4h6.14v6.03h-6.14zM2388.4 671.4h6.14v6.03h-6.14zM2419.1 677.4h6.14v6.03h-6.14zM2382.3 683.4h6.14v6.03h-6.14zM2406.9 683.4h6.14v6.03h-6.14zM2413.0 683.4h6.14v6.03h-6.14zM2419.1 683.4h6.14v6.03h-6.14zM2425.3 695.5h6.14v6.03h-6.14z" fill="#505255"/><path d="M2351.6 562.9h6.14v6.03h-6.14zM2419.1 562.9h6.14v6.03h-6.14zM2406.9 568.9h6.14v6.03h-6.14zM2443.7 575.0h6.14v6.03h-6.14zM2376.2 587.0h6.14v6.03h-6.14zM2437.5 593.0h6.14v6.03h-6.14zM2425.3 605.1h6.14v6.03h-6.14zM2351.6 611.1h6.14v6.03h-6.14zM2345.5 617.1h6.14v6.03h-6.14zM2376.2 617.1h6.14v6.03h-6.14zM2400.7 617.1h6.14v6.03h-6.14zM2406.9 617.1h6.14v6.03h-6.14zM2431.4 623.2h6.14v6.03h-6.14zM2437.5 623.2h6.14v6.03h-6.14zM2370.0 641.2h6.14v6.03h-6.14zM2333.2 647.3h6.14v6.03h-6.14zM2351.6 647.3h6.14v6.03h-6.14zM2351.6 653.3h6.14v6.03h-6.14zM2425.3 653.3h6.14v6.03h-6.14zM2339.4 671.4h6.14v6.03h-6.14zM2345.5 671.4h6.14v6.03h-6.14zM2333.2 677.4h6.14v6.03h-6.14zM2413.0 677.4h6.14v6.03h-6.14zM2345.5 683.4h6.14v6.03h-6.14zM2388.4 683.4h6.14v6.03h-6.14zM2327.1 689.4h6.14v6.03h-6.14zM2363.9 695.5h6.14v6.03h-6.14zM2382.3 695.5h6.14v6.03h-6.14z" fill="#323437"/><path d="M2357.8 562.9h6.14v6.03h-6.14zM2363.9 562.9h6.14v6.03h-6.14zM2406.9 562.9h6.14v6.03h-6.14zM2431.4 562.9h6.14v6.03h-6.14zM2443.7 562.9h6.14v6.03h-6.14zM2363.9 568.9h6.14v6.03h-6.14zM2425.3 568.9h6.14v6.03h-6.14zM2431.4 568.9h6.14v6.03h-6.14zM2327.1 575.0h6.14v6.03h-6.14zM2370.0 575.0h6.14v6.03h-6.14zM2419.1 575.0h6.14v6.03h-6.14zM2327.1 581.0h6.14v6.03h-6.14zM2363.9 581.0h6.14v6.03h-6.14zM2388.4 581.0h6.14v6.03h-6.14zM2333.2 587.0h6.14v6.03h-6.14zM2345.5 587.0h6.14v6.03h-6.14zM2370.0 587.0h6.14v6.03h-6.14zM2400.7 587.0h6.14v6.03h-6.14zM2406.9 587.0h6.14v6.03h-6.14zM2431.4 587.0h6.14v6.03h-6.14zM2327.1 593.0h6.14v6.03h-6.14zM2357.8 593.0h6.14v6.03h-6.14zM2376.2 593.0h6.14v6.03h-6.14zM2382.3 593.0h6.14v6.03h-6.14zM2406.9 593.0h6.14v6.03h-6.14zM2431.4 593.0h6.14v6.03h-6.14zM2443.7 593.0h6.14v6.03h-6.14zM2382.3 599.1h6.14v6.03h-6.14zM2388.4 599.1h6.14v6.03h-6.14zM2400.7 599.1h6.14v6.03h-6.14zM2333.2 605.1h6.14v6.03h-6.14zM2388.4 605.1h6.14v6.03h-6.14zM2394.6 605.1h6.14v6.03h-6.14zM2413.0 611.1h6.14v6.03h-6.14zM2425.3 611.1h6.14v6.03h-6.14zM2431.4 611.1h6.14v6.03h-6.14zM2443.7 611.1h6.14v6.03h-6.14zM2419.1 617.1h6.14v6.03h-6.14zM2437.5 617.1h6.14v6.03h-6.14zM2370.0 623.2h6.14v6.03h-6.14zM2376.2 623.2h6.14v6.03h-6.14zM2425.3 623.2h6.14v6.03h-6.14zM2376.2 629.2h6.14v6.03h-6.14zM2382.3 629.2h6.14v6.03h-6.14zM2425.3 629.2h6.14v6.03h-6.14zM2400.7 635.2h6.14v6.03h-6.14zM2382.3 641.2h6.14v6.03h-6.14zM2419.1 641.2h6.14v6.03h-6.14zM2437.5 641.2h6.14v6.03h-6.14zM2382.3 647.3h6.14v6.03h-6.14zM2394.6 647.3h6.14v6.03h-6.14zM2437.5 647.3h6.14v6.03h-6.14zM2357.8 653.3h6.14v6.03h-6.14zM2376.2 653.3h6.14v6.03h-6.14zM2382.3 653.3h6.14v6.03h-6.14zM2388.4 653.3h6.14v6.03h-6.14zM2406.9 653.3h6.14v6.03h-6.14zM2419.1 653.3h6.14v6.03h-6.14zM2431.4 653.3h6.14v6.03h-6.14zM2437.5 653.3h6.14v6.03h-6.14zM2339.4 659.3h6.14v6.03h-6.14zM2437.5 659.3h6.14v6.03h-6.14zM2351.6 665.3h6.14v6.03h-6.14zM2425.3 665.3h6.14v6.03h-6.14zM2363.9 671.4h6.14v6.03h-6.14zM2419.1 671.4h6.14v6.03h-6.14zM2370.0 677.4h6.14v6.03h-6.14zM2376.2 677.4h6.14v6.03h-6.14zM2339.4 683.4h6.14v6.03h-6.14zM2363.9 683.4h6.14v6.03h-6.14zM2431.4 683.4h6.14v6.03h-6.14zM2333.2 689.4h6.14v6.03h-6.14zM2339.4 689.4h6.14v6.03h-6.14zM2357.8 689.4h6.14v6.03h-6.14zM2370.0 689.4h6.14v6.03h-6.14zM2394.6 689.4h6.14v6.03h-6.14zM2437.5 689.4h6.14v6.03h-6.14zM2345.5 695.5h6.14v6.03h-6.14zM2351.6 695.5h6.14v6.03h-6.14zM2357.8 695.5h6.14v6.03h-6.14zM2370.0 695.5h6.14v6.03h-6.14zM2413.0 695.5h6.14v6.03h-6.14z" fill="#1b1c1f"/><path d="M2339.4 568.9h6.14v6.03h-6.14zM2400.7 568.9h6.14v6.03h-6.14zM2376.2 575.0h6.14v6.03h-6.14zM2345.5 581.0h6.14v6.03h-6.14zM2370.0 581.0h6.14v6.03h-6.14zM2382.3 581.0h6.14v6.03h-6.14zM2413.0 581.0h6.14v6.03h-6.14zM2425.3 581.0h6.14v6.03h-6.14zM2394.6 587.0h6.14v6.03h-6.14zM2333.2 593.0h6.14v6.03h-6.14zM2413.0 593.0h6.14v6.03h-6.14zM2370.0 599.1h6.14v6.03h-6.14zM2345.5 605.1h6.14v6.03h-6.14zM2370.0 605.1h6.14v6.03h-6.14zM2419.1 605.1h6.14v6.03h-6.14zM2431.4 605.1h6.14v6.03h-6.14zM2388.4 611.1h6.14v6.03h-6.14zM2437.5 611.1h6.14v6.03h-6.14zM2327.1 617.1h6.14v6.03h-6.14zM2351.6 617.1h6.14v6.03h-6.14zM2363.9 617.1h6.14v6.03h-6.14zM2382.3 617.1h6.14v6.03h-6.14zM2400.7 629.2h6.14v6.03h-6.14zM2327.1 635.2h6.14v6.03h-6.14zM2327.1 647.3h6.14v6.03h-6.14zM2388.4 647.3h6.14v6.03h-6.14zM2443.7 647.3h6.14v6.03h-6.14zM2333.2 653.3h6.14v6.03h-6.14zM2363.9 653.3h6.14v6.03h-6.14zM2413.0 653.3h6.14v6.03h-6.14zM2327.1 659.3h6.14v6.03h-6.14zM2351.6 659.3h6.14v6.03h-6.14zM2388.4 665.3h6.14v6.03h-6.14zM2333.2 671.4h6.14v6.03h-6.14zM2351.6 671.4h6.14v6.03h-6.14zM2406.9 671.4h6.14v6.03h-6.14zM2345.5 677.4h6.14v6.03h-6.14zM2382.3 677.4h6.14v6.03h-6.14zM2406.9 677.4h6.14v6.03h-6.14zM2431.4 677.4h6.14v6.03h-6.14zM2437.5 677.4h6.14v6.03h-6.14zM2443.7 677.4h6.14v6.03h-6.14zM2333.2 683.4h6.14v6.03h-6.14zM2376.2 683.4h6.14v6.03h-6.14zM2333.2 695.5h6.14v6.03h-6.14zM2339.4 695.5h6.14v6.03h-6.14zM2394.6 695.5h6.14v6.03h-6.14zM2437.5 695.5h6.14v6.03h-6.14z" fill="#26282b"/><path d="M2345.5 568.9h6.14v6.03h-6.14zM2351.6 568.9h6.14v6.03h-6.14zM2388.4 568.9h6.14v6.03h-6.14zM2339.4 587.0h6.14v6.03h-6.14zM2400.7 593.0h6.14v6.03h-6.14zM2425.3 593.0h6.14v6.03h-6.14zM2400.7 605.1h6.14v6.03h-6.14zM2345.5 623.2h6.14v6.03h-6.14zM2400.7 623.2h6.14v6.03h-6.14zM2406.9 629.2h6.14v6.03h-6.14zM2333.2 635.2h6.14v6.03h-6.14zM2400.7 641.2h6.14v6.03h-6.14zM2406.9 641.2h6.14v6.03h-6.14zM2431.4 641.2h6.14v6.03h-6.14zM2413.0 659.3h6.14v6.03h-6.14zM2357.8 665.3h6.14v6.03h-6.14zM2382.3 665.3h6.14v6.03h-6.14zM2382.3 671.4h6.14v6.03h-6.14zM2425.3 671.4h6.14v6.03h-6.14zM2394.6 677.4h6.14v6.03h-6.14zM2327.1 683.4h6.14v6.03h-6.14zM2419.1 695.5h6.14v6.03h-6.14z" fill="#3e4043"/><path d="M2413.0 623.2h6.14v6.03h-6.14zM2413.0 665.3h6.14v6.03h-6.14z" fill="#6a6c6f"/></svg>
<div class="b" style="left:2808.60px;top:520.00px;width:15.60px;height:210.60px;background:#2e2e30;"></div>
<div class="b" style="left:2284.00px;top:714.80px;width:524.60px;height:15.80px;background:#2e2e30;"></div>
<div class="b" style="left:2811.60px;top:539.10px;width:9.80px;height:135.60px;background:#a0a0a0;border-radius:5px;"></div>
<div class="b" style="left:2303.10px;top:717.80px;width:427.40px;height:10.00px;background:#a0a0a0;border-radius:5px;"></div>
<svg class="b" style="left:2810.40px;top:524.50px;" width="12.00" height="7.60" viewBox="2810.40 524.50 12.00 7.60"><polygon points="2811.40,531.10 2821.40,531.10 2816.40,525.50" fill="#a0a0a0"/></svg>
<svg class="b" style="left:2810.40px;top:701.80px;" width="12.00" height="7.60" viewBox="2810.40 701.80 12.00 7.60"><polygon points="2811.40,702.80 2821.40,702.80 2816.40,708.40" fill="#a0a0a0"/></svg>
<svg class="b" style="left:2287.80px;top:716.80px;" width="7.60" height="12.00" viewBox="2287.80 716.80 7.60 12.00"><polygon points="2294.40,717.80 2294.40,727.80 2288.80,722.80" fill="#a0a0a0"/></svg>
<svg class="b" style="left:2796.40px;top:716.80px;" width="7.60" height="12.00" viewBox="2796.40 716.80 7.60 12.00"><polygon points="2797.40,717.80 2797.40,727.80 2803.00,722.80" fill="#a0a0a0"/></svg>
<div class="b" style="left:2853.40px;top:455.40px;width:928.40px;height:290.10px;background:#1e2124;border-radius:8px;overflow:hidden;"><div class="b" style="left:0;top:0;right:0;bottom:0;border-radius:inherit;box-shadow:inset 0 0 0 1.5px #2d2f35"></div></div>
<span class="t" style="left:2865.32px;top:471.00px;font-size:22.3px;line-height:22.3px;color:#d0d0df;letter-spacing:1.169px;-webkit-text-stroke:0.4px #d0d0df;">Estimated Monthly Cost by Instance Type</span>
<svg class="b" style="left:3345.10px;top:469.30px;" width="25.00" height="25.00" viewBox="3345.10 469.30 25.00 25.00"><circle cx="3357.6" cy="481.79999999999995" r="9.50" fill="none" stroke="#9c9dab" stroke-width="2"/><path d="M3357.6 482.50V485.80" stroke="#9c9dab" stroke-width="2.2" stroke-linecap="round"/><circle cx="3357.6" cy="478.30" r="1.3" fill="#9c9dab"/></svg>
<svg class="b" style="left:3046.70px;top:542.00px;" width="166.60" height="166.60" viewBox="3046.70 542.00 166.60 166.60"><defs><radialGradient id="gd0" gradientUnits="userSpaceOnUse" cx="3130" cy="625.3" r="79.3"><stop offset="0" stop-color="#1050d3"/><stop offset="0.85" stop-color="#1c7ced"/><stop offset="1" stop-color="#1c7ced"/></radialGradient><radialGradient id="gd1" gradientUnits="userSpaceOnUse" cx="3130" cy="625.3" r="79.3"><stop offset="0" stop-color="#3e883a"/><stop offset="0.85" stop-color="#57a345"/><stop offset="1" stop-color="#57a345"/></radialGradient><radialGradient id="gd2" gradientUnits="userSpaceOnUse" cx="3130" cy="625.3" r="79.3"><stop offset="0" stop-color="#153b14"/><stop offset="0.85" stop-color="#27571d"/><stop offset="1" stop-color="#27571d"/></radialGradient><radialGradient id="gd3" gradientUnits="userSpaceOnUse" cx="3130" cy="625.3" r="79.3"><stop offset="0" stop-color="#c70e17"/><stop offset="0.85" stop-color="#eb1138"/><stop offset="1" stop-color="#eb1138"/></radialGradient><radialGradient id="gd4" gradientUnits="userSpaceOnUse" cx="3130" cy="625.3" r="79.3"><stop offset="0" stop-color="#9333b7"/><stop offset="0.85" stop-color="#9545cb"/><stop offset="1" stop-color="#9545cb"/></radialGradient><radialGradient id="gd5" gradientUnits="userSpaceOnUse" cx="3130" cy="625.3" r="79.3"><stop offset="0" stop-color="#918307"/><stop offset="0.85" stop-color="#b58d09"/><stop offset="1" stop-color="#b58d09"/></radialGradient><radialGradient id="gd6" gradientUnits="userSpaceOnUse" cx="3130" cy="625.3" r="79.3"><stop offset="0" stop-color="#c97200"/><stop offset="0.85" stop-color="#ef6800"/><stop offset="1" stop-color="#ef6800"/></radialGradient><radialGradient id="gd7" gradientUnits="userSpaceOnUse" cx="3130" cy="625.3" r="79.3"><stop offset="0" stop-color="#736400"/><stop offset="0.85" stop-color="#997100"/><stop offset="1" stop-color="#997100"/></radialGradient></defs><path d="M3130 625.3L3130.00 546.00A79.3 79.3 0 0 1 3207.62 609.08Z" fill="url(#gd0)"/><path d="M3130 625.3L3207.62 609.08A79.3 79.3 0 0 1 3184.24 683.15Z" fill="url(#gd1)"/><path d="M3130 625.3L3184.24 683.15A79.3 79.3 0 0 1 3110.30 702.11Z" fill="url(#gd2)"/><path d="M3130 625.3L3110.30 702.11A79.3 79.3 0 0 1 3062.55 666.99Z" fill="url(#gd3)"/><path d="M3130 625.3L3062.55 666.99A79.3 79.3 0 0 1 3052.48 608.58Z" fill="url(#gd4)"/><path d="M3130 625.3L3052.48 608.58A79.3 79.3 0 0 1 3080.79 563.12Z" fill="url(#gd5)"/><path d="M3130 625.3L3080.79 563.12A79.3 79.3 0 0 1 3111.79 548.12Z" fill="url(#gd6)"/><path d="M3130 625.3L3111.79 548.12A79.3 79.3 0 0 1 3130.00 546.00Z" fill="url(#gd7)"/><path d="M3130 625.3L3130.00 544.50" stroke="#1e2124" stroke-width="2.3"/><circle cx="3130.00" cy="545.10" r="2.7" fill="#1e2124"/><path d="M3130 625.3L3209.09 608.77" stroke="#1e2124" stroke-width="2.3"/><circle cx="3208.50" cy="608.89" r="2.7" fill="#1e2124"/><path d="M3130 625.3L3185.27 684.24" stroke="#1e2124" stroke-width="2.3"/><circle cx="3184.86" cy="683.81" r="2.7" fill="#1e2124"/><path d="M3130 625.3L3109.93 703.57" stroke="#1e2124" stroke-width="2.3"/><circle cx="3110.08" cy="702.99" r="2.7" fill="#1e2124"/><path d="M3130 625.3L3061.27 667.78" stroke="#1e2124" stroke-width="2.3"/><circle cx="3061.78" cy="667.47" r="2.7" fill="#1e2124"/><path d="M3130 625.3L3051.02 608.26" stroke="#1e2124" stroke-width="2.3"/><circle cx="3051.60" cy="608.39" r="2.7" fill="#1e2124"/><path d="M3130 625.3L3079.85 561.94" stroke="#1e2124" stroke-width="2.3"/><circle cx="3080.23" cy="562.41" r="2.7" fill="#1e2124"/><path d="M3130 625.3L3111.44 546.66" stroke="#1e2124" stroke-width="2.3"/><circle cx="3111.58" cy="547.24" r="2.7" fill="#1e2124"/></svg>
<span class="t" style="left:3137.58px;top:595.00px;font-size:20.38px;line-height:20.38px;color:#d8d8e2;letter-spacing:0.712px;">22%</span>
<span class="t" style="left:3154.20px;top:645.00px;font-size:20.38px;line-height:20.38px;color:#d8d8e2;letter-spacing:-0.713px;">16%</span>
<span class="t" style="left:3121.55px;top:677.00px;font-size:20.38px;line-height:20.38px;color:#d8d8e2;letter-spacing:-0.713px;">16%</span>
<span class="t" style="left:3082.35px;top:669.00px;font-size:20.38px;line-height:20.38px;color:#d8d8e2;letter-spacing:-0.713px;">12%</span>
<span class="t" style="left:3063.27px;top:641.00px;font-size:20.38px;line-height:20.38px;color:#d8d8e2;letter-spacing:-0.383px;">12%</span>
<span class="t" style="left:3070.76px;top:607.00px;font-size:20.38px;line-height:20.38px;color:#d8d8e2;letter-spacing:-0.713px;">11%</span>
<span class="t" style="left:3093.18px;top:590.00px;font-size:20.38px;line-height:20.38px;color:#d8d8e2;letter-spacing:0.759px;">7%</span>
<span class="t" style="left:3588.60px;top:529.00px;font-size:19.1px;line-height:19.1px;color:#6e9fff;letter-spacing:0.988px;-webkit-text-stroke:0.3px #6e9fff;">Value</span>
<span class="t" style="left:3664.87px;top:529.00px;font-size:19.1px;line-height:19.1px;color:#6e9fff;letter-spacing:1.176px;-webkit-text-stroke:0.3px #6e9fff;">Percent</span>
<div class="b" style="left:3390px;top:520px;width:361px;height:210.6px;overflow:hidden"><div class="b" style="left:-3390px;top:-520px">
<div class="b" style="left:3394.00px;top:556.00px;width:357.00px;height:1.00px;background:#33353b;"></div>
<div class="b" style="left:3394.00px;top:594.00px;width:357.00px;height:1.00px;background:#33353b;"></div>
<div class="b" style="left:3394.00px;top:632.00px;width:357.00px;height:1.00px;background:#33353b;"></div>
<div class="b" style="left:3394.00px;top:669.00px;width:357.00px;height:1.00px;background:#33353b;"></div>
<div class="b" style="left:3394.00px;top:707.00px;width:357.00px;height:1.00px;background:#33353b;"></div>
<div class="b" style="left:3406.90px;top:572.85px;width:21.90px;height:6.60px;background:#5794f2;border-radius:3.3px;"></div>
<span class="t" style="left:3441.51px;top:567.00px;font-size:19.86px;line-height:19.86px;color:#d0d0df;letter-spacing:0.531px;">c7g.xlarge</span>
<span class="t" style="left:3596.89px;top:567.00px;font-size:19.86px;line-height:19.86px;color:#d0d0df;letter-spacing:-0.317px;">$212</span>
<span class="t" style="left:3695.42px;top:567.00px;font-size:19.86px;line-height:19.86px;color:#d0d0df;letter-spacing:1.255px;">22%</span>
<div class="b" style="left:3406.90px;top:610.65px;width:21.90px;height:6.60px;background:#73bf69;border-radius:3.3px;"></div>
<span class="t" style="left:3441.51px;top:605.00px;font-size:19.86px;line-height:19.86px;color:#d0d0df;letter-spacing:0.476px;">c7g.large</span>
<span class="t" style="left:3596.89px;top:605.00px;font-size:19.86px;line-height:19.86px;color:#d0d0df;letter-spacing:-0.317px;">$159</span>
<span class="t" style="left:3698.93px;top:605.00px;font-size:19.86px;line-height:19.86px;color:#d0d0df;letter-spacing:-0.503px;">16%</span>
<div class="b" style="left:3406.90px;top:648.20px;width:21.90px;height:6.60px;background:#37872d;border-radius:3.3px;"></div>
<span class="t" style="left:3441.01px;top:642.00px;font-size:19.86px;line-height:19.86px;color:#d0d0df;letter-spacing:0.582px;">m7gd.xlarge</span>
<span class="t" style="left:3596.89px;top:642.00px;font-size:19.86px;line-height:19.86px;color:#d0d0df;letter-spacing:-0.350px;">$156</span>
<span class="t" style="left:3698.93px;top:642.00px;font-size:19.86px;line-height:19.86px;color:#d0d0df;letter-spacing:-0.503px;">16%</span>
<div class="b" style="left:3406.90px;top:685.65px;width:21.90px;height:6.60px;background:#f2495c;border-radius:3.3px;"></div>
<span class="t" style="left:3441.01px;top:680.00px;font-size:19.86px;line-height:19.86px;color:#d0d0df;letter-spacing:0.499px;">m7g.large</span>
<span class="t" style="left:3599.49px;top:680.00px;font-size:19.86px;line-height:19.86px;color:#d0d0df;letter-spacing:-0.695px;">$119</span>
<span class="t" style="left:3698.93px;top:680.00px;font-size:19.86px;line-height:19.86px;color:#d0d0df;letter-spacing:-0.503px;">12%</span>
<div class="b" style="left:3406.90px;top:723.15px;width:21.90px;height:6.60px;background:#b877d9;border-radius:3.3px;"></div>
<span class="t" style="left:3441.01px;top:717.00px;font-size:19.86px;line-height:19.86px;color:#d0d0df;letter-spacing:0.550px;">m7g.medium</span>
<span class="t" style="left:3599.49px;top:717.00px;font-size:19.86px;line-height:19.86px;color:#d0d0df;letter-spacing:-0.695px;">$119</span>
<span class="t" style="left:3698.93px;top:717.00px;font-size:19.86px;line-height:19.86px;color:#d0d0df;letter-spacing:-0.503px;">12%</span>
</div></div>
<div class="b" style="left:3751.00px;top:520.00px;width:15.80px;height:210.60px;background:#2e2e30;"></div>
<div class="b" style="left:3754.00px;top:539.10px;width:9.80px;height:108.10px;background:#a0a0a0;border-radius:5px;"></div>
<svg class="b" style="left:3752.90px;top:524.50px;" width="12.00" height="7.60" viewBox="3752.90 524.50 12.00 7.60"><polygon points="3753.90,531.10 3763.90,531.10 3758.90,525.50" fill="#a0a0a0"/></svg>
<svg class="b" style="left:3752.90px;top:717.50px;" width="12.00" height="7.60" viewBox="3752.90 717.50 12.00 7.60"><polygon points="3753.90,718.50 3763.90,718.50 3758.90,724.10" fill="#a0a0a0"/></svg>
<div class="b" style="left:24.40px;top:759.50px;width:3757.20px;height:472.80px;background:#1e2124;border-radius:8px;overflow:hidden;"><div class="b" style="left:0;top:0;right:0;bottom:0;border-radius:inherit;box-shadow:inset 0 0 0 1.5px #2d2f35"></div></div>
<span class="t" style="left:36.02px;top:775.00px;font-size:22.3px;line-height:22.3px;color:#d0d0df;letter-spacing:1.118px;-webkit-text-stroke:0.4px #d0d0df;">Estimated Monthly Cost by Node Pool</span>
<svg class="b" style="left:475.00px;top:773.40px;" width="25.00" height="25.00" viewBox="475.00 773.40 25.00 25.00"><circle cx="487.5" cy="785.9" r="9.50" fill="none" stroke="#9c9dab" stroke-width="2"/><path d="M487.5 786.60V789.90" stroke="#9c9dab" stroke-width="2.2" stroke-linecap="round"/><circle cx="487.5" cy="782.40" r="1.3" fill="#9c9dab"/></svg>
<svg class="b" style="left:99.90px;top:835.90px;" width="3011.10" height="353.10" viewBox="99.90 835.90 3011.10 353.10"><path d="M100.9 860.70H3109.5" stroke="#2c2e33" stroke-width="1.5"/><path d="M100.9 925.22H3109.5" stroke="#2c2e33" stroke-width="1.5"/><path d="M100.9 989.74H3109.5" stroke="#2c2e33" stroke-width="1.5"/><path d="M100.9 1054.26H3109.5" stroke="#2c2e33" stroke-width="1.5"/><path d="M100.9 1118.78H3109.5" stroke="#2c2e33" stroke-width="1.5"/><path d="M100.9 1183.30H3109.5" stroke="#2c2e33" stroke-width="1.5"/><path d="M169.40 836.9V1187.6" stroke="#2c2e33" stroke-width="1.5"/><path d="M252.93 836.9V1187.6" stroke="#2c2e33" stroke-width="1.5"/><path d="M336.47 836.9V1187.6" stroke="#2c2e33" stroke-width="1.5"/><path d="M420.00 836.9V1187.6" stroke="#2c2e33" stroke-width="1.5"/><path d="M503.53 836.9V1187.6" stroke="#2c2e33" stroke-width="1.5"/><path d="M587.07 836.9V1187.6" stroke="#2c2e33" stroke-width="1.5"/><path d="M670.60 836.9V1187.6" stroke="#2c2e33" stroke-width="1.5"/><path d="M754.13 836.9V1187.6" stroke="#2c2e33" stroke-width="1.5"/><path d="M837.66 836.9V1187.6" stroke="#2c2e33" stroke-width="1.5"/><path d="M921.20 836.9V1187.6" stroke="#2c2e33" stroke-width="1.5"/><path d="M1004.73 836.9V1187.6" stroke="#2c2e33" stroke-width="1.5"/><path d="M1088.26 836.9V1187.6" stroke="#2c2e33" stroke-width="1.5"/><path d="M1171.80 836.9V1187.6" stroke="#2c2e33" stroke-width="1.5"/><path d="M1255.33 836.9V1187.6" stroke="#2c2e33" stroke-width="1.5"/><path d="M1338.86 836.9V1187.6" stroke="#2c2e33" stroke-width="1.5"/><path d="M1422.40 836.9V1187.6" stroke="#2c2e33" stroke-width="1.5"/><path d="M1505.93 836.9V1187.6" stroke="#2c2e33" stroke-width="1.5"/><path d="M1589.46 836.9V1187.6" stroke="#2c2e33" stroke-width="1.5"/><path d="M1672.99 836.9V1187.6" stroke="#2c2e33" stroke-width="1.5"/><path d="M1756.53 836.9V1187.6" stroke="#2c2e33" stroke-width="1.5"/><path d="M1840.06 836.9V1187.6" stroke="#2c2e33" stroke-width="1.5"/><path d="M1923.59 836.9V1187.6" stroke="#2c2e33" stroke-width="1.5"/><path d="M2007.13 836.9V1187.6" stroke="#2c2e33" stroke-width="1.5"/><path d="M2090.66 836.9V1187.6" stroke="#2c2e33" stroke-width="1.5"/><path d="M2174.19 836.9V1187.6" stroke="#2c2e33" stroke-width="1.5"/><path d="M2257.72 836.9V1187.6" stroke="#2c2e33" stroke-width="1.5"/><path d="M2341.26 836.9V1187.6" stroke="#2c2e33" stroke-width="1.5"/><path d="M2424.79 836.9V1187.6" stroke="#2c2e33" stroke-width="1.5"/><path d="M2508.32 836.9V1187.6" stroke="#2c2e33" stroke-width="1.5"/><path d="M2591.86 836.9V1187.6" stroke="#2c2e33" stroke-width="1.5"/><path d="M2675.39 836.9V1187.6" stroke="#2c2e33" stroke-width="1.5"/><path d="M2758.92 836.9V1187.6" stroke="#2c2e33" stroke-width="1.5"/><path d="M2842.46 836.9V1187.6" stroke="#2c2e33" stroke-width="1.5"/><path d="M2925.99 836.9V1187.6" stroke="#2c2e33" stroke-width="1.5"/><path d="M3009.52 836.9V1187.6" stroke="#2c2e33" stroke-width="1.5"/><path d="M3093.06 836.9V1187.6" stroke="#2c2e33" stroke-width="1.5"/><rect x="100.9" y="867.0" width="3001.90" height="73.30" fill="#f2495c"/><rect x="100.9" y="940.0" width="3001.90" height="10.10" fill="#ff9830"/><rect x="100.9" y="949.8" width="3001.90" height="59.90" fill="#5794f2"/><rect x="100.9" y="1009.4" width="3001.90" height="154.50" fill="#f2cc0c"/><rect x="100.9" y="1163.6" width="3001.90" height="20.00" fill="#73bf69"/></svg>
<span class="t" style="left:59.81px;top:850.00px;font-size:19.14px;line-height:19.14px;color:#d0d0df;letter-spacing:-0.670px;">$1K</span>
<span class="t" style="left:44.81px;top:914.00px;font-size:19.14px;line-height:19.14px;color:#d0d0df;letter-spacing:1.701px;">$800</span>
<span class="t" style="left:44.81px;top:979.00px;font-size:19.14px;line-height:19.14px;color:#d0d0df;letter-spacing:1.701px;">$600</span>
<span class="t" style="left:44.81px;top:1043.00px;font-size:19.14px;line-height:19.14px;color:#d0d0df;letter-spacing:1.701px;">$400</span>
<span class="t" style="left:44.81px;top:1108.00px;font-size:19.14px;line-height:19.14px;color:#d0d0df;letter-spacing:1.701px;">$200</span>
<span class="t" style="left:68.41px;top:1172.00px;font-size:19.14px;line-height:19.14px;color:#d0d0df;letter-spacing:2.793px;">$0</span>
<span class="t" style="left:144.06px;top:1195.00px;font-size:19.14px;line-height:19.14px;color:#d0d0df;letter-spacing:0.531px;">13:05</span>
<span class="t" style="left:227.60px;top:1195.00px;font-size:19.14px;line-height:19.14px;color:#d0d0df;letter-spacing:0.507px;">13:10</span>
<span class="t" style="left:311.13px;top:1195.00px;font-size:19.14px;line-height:19.14px;color:#d0d0df;letter-spacing:0.531px;">13:15</span>
<span class="t" style="left:394.66px;top:1195.00px;font-size:19.14px;line-height:19.14px;color:#d0d0df;letter-spacing:0.507px;">13:20</span>
<span class="t" style="left:478.20px;top:1195.00px;font-size:19.14px;line-height:19.14px;color:#d0d0df;letter-spacing:0.531px;">13:25</span>
<span class="t" style="left:561.73px;top:1195.00px;font-size:19.14px;line-height:19.14px;color:#d0d0df;letter-spacing:0.507px;">13:30</span>
<span class="t" style="left:645.26px;top:1195.00px;font-size:19.14px;line-height:19.14px;color:#d0d0df;letter-spacing:0.531px;">13:35</span>
<span class="t" style="left:728.80px;top:1195.00px;font-size:19.14px;line-height:19.14px;color:#d0d0df;letter-spacing:0.507px;">13:40</span>
<span class="t" style="left:812.33px;top:1195.00px;font-size:19.14px;line-height:19.14px;color:#d0d0df;letter-spacing:0.531px;">13:45</span>
<span class="t" style="left:895.86px;top:1195.00px;font-size:19.14px;line-height:19.14px;color:#d0d0df;letter-spacing:0.507px;">13:50</span>
<span class="t" style="left:979.39px;top:1195.00px;font-size:19.14px;line-height:19.14px;color:#d0d0df;letter-spacing:0.531px;">13:55</span>
<span class="t" style="left:1062.93px;top:1195.00px;font-size:19.14px;line-height:19.14px;color:#d0d0df;letter-spacing:0.507px;">14:00</span>
<span class="t" style="left:1146.46px;top:1195.00px;font-size:19.14px;line-height:19.14px;color:#d0d0df;letter-spacing:0.531px;">14:05</span>
<span class="t" style="left:1229.99px;top:1195.00px;font-size:19.14px;line-height:19.14px;color:#d0d0df;letter-spacing:0.507px;">14:10</span>
<span class="t" style="left:1313.53px;top:1195.00px;font-size:19.14px;line-height:19.14px;color:#d0d0df;letter-spacing:0.531px;">14:15</span>
<span class="t" style="left:1397.06px;top:1195.00px;font-size:19.14px;line-height:19.14px;color:#d0d0df;letter-spacing:0.507px;">14:20</span>
<span class="t" style="left:1480.59px;top:1195.00px;font-size:19.14px;line-height:19.14px;color:#d0d0df;letter-spacing:0.531px;">14:25</span>
<span class="t" style="left:1564.13px;top:1195.00px;font-size:19.14px;line-height:19.14px;color:#d0d0df;letter-spacing:0.507px;">14:30</span>
<span class="t" style="left:1647.66px;top:1195.00px;font-size:19.14px;line-height:19.14px;color:#d0d0df;letter-spacing:0.531px;">14:35</span>
<span class="t" style="left:1731.19px;top:1195.00px;font-size:19.14px;line-height:19.14px;color:#d0d0df;letter-spacing:0.507px;">14:40</span>
<span class="t" style="left:1814.72px;top:1195.00px;font-size:19.14px;line-height:19.14px;color:#d0d0df;letter-spacing:0.531px;">14:45</span>
<span class="t" style="left:1898.26px;top:1195.00px;font-size:19.14px;line-height:19.14px;color:#d0d0df;letter-spacing:0.507px;">14:50</span>
<span class="t" style="left:1981.79px;top:1195.00px;font-size:19.14px;line-height:19.14px;color:#d0d0df;letter-spacing:0.531px;">14:55</span>
<span class="t" style="left:2065.32px;top:1195.00px;font-size:19.14px;line-height:19.14px;color:#d0d0df;letter-spacing:0.507px;">15:00</span>
<span class="t" style="left:2148.86px;top:1195.00px;font-size:19.14px;line-height:19.14px;color:#d0d0df;letter-spacing:0.531px;">15:05</span>
<span class="t" style="left:2232.39px;top:1195.00px;font-size:19.14px;line-height:19.14px;color:#d0d0df;letter-spacing:0.507px;">15:10</span>
<span class="t" style="left:2315.92px;top:1195.00px;font-size:19.14px;line-height:19.14px;color:#d0d0df;letter-spacing:0.531px;">15:15</span>
<span class="t" style="left:2399.46px;top:1195.00px;font-size:19.14px;line-height:19.14px;color:#d0d0df;letter-spacing:0.507px;">15:20</span>
<span class="t" style="left:2482.99px;top:1195.00px;font-size:19.14px;line-height:19.14px;color:#d0d0df;letter-spacing:0.531px;">15:25</span>
<span class="t" style="left:2566.52px;top:1195.00px;font-size:19.14px;line-height:19.14px;color:#d0d0df;letter-spacing:0.507px;">15:30</span>
<span class="t" style="left:2650.05px;top:1195.00px;font-size:19.14px;line-height:19.14px;color:#d0d0df;letter-spacing:0.531px;">15:35</span>
<span class="t" style="left:2733.59px;top:1195.00px;font-size:19.14px;line-height:19.14px;color:#d0d0df;letter-spacing:0.507px;">15:40</span>
<span class="t" style="left:2817.12px;top:1195.00px;font-size:19.14px;line-height:19.14px;color:#d0d0df;letter-spacing:0.531px;">15:45</span>
<span class="t" style="left:2900.65px;top:1195.00px;font-size:19.14px;line-height:19.14px;color:#d0d0df;letter-spacing:0.507px;">15:50</span>
<span class="t" style="left:2984.19px;top:1195.00px;font-size:19.14px;line-height:19.14px;color:#d0d0df;letter-spacing:0.531px;">15:55</span>
<span class="t" style="left:3067.72px;top:1195.00px;font-size:19.14px;line-height:19.14px;color:#d0d0df;letter-spacing:0.507px;">16:00</span>
<div class="b" style="left:3121.00px;top:860.00px;width:646.00px;height:1.00px;background:#33353b;"></div>
<div class="b" style="left:3121.00px;top:898.00px;width:646.00px;height:1.00px;background:#33353b;"></div>
<div class="b" style="left:3121.00px;top:936.00px;width:646.00px;height:1.00px;background:#33353b;"></div>
<div class="b" style="left:3121.00px;top:974.00px;width:646.00px;height:1.00px;background:#33353b;"></div>
<div class="b" style="left:3121.00px;top:1011.00px;width:646.00px;height:1.00px;background:#33353b;"></div>
<div class="b" style="left:3121.00px;top:1048.00px;width:646.00px;height:1.00px;background:#33353b;"></div>
<span class="t" style="left:3167.77px;top:833.00px;font-size:19.1px;line-height:19.1px;color:#6e9fff;letter-spacing:1.455px;-webkit-text-stroke:0.3px #6e9fff;">Name</span>
<span class="t" style="left:3587.97px;top:833.00px;font-size:19.1px;line-height:19.1px;color:#6e9fff;letter-spacing:1.639px;-webkit-text-stroke:0.3px #6e9fff;">Mean</span>
<svg class="b" style="left:3644.30px;top:838.99px;" width="13.20" height="9.62" viewBox="3644.30 838.99 13.20 9.62"><g fill="none" stroke="#6e9fff" stroke-width="1.8" stroke-linecap="round" stroke-linejoin="round"><path d="M3647.30 841.99L3650.90 845.61L3654.50 841.99"/></g></svg>
<span class="t" style="left:3713.47px;top:833.00px;font-size:19.1px;line-height:19.1px;color:#6e9fff;letter-spacing:1.817px;-webkit-text-stroke:0.3px #6e9fff;">Max</span>
<div class="b" style="left:3132.90px;top:876.80px;width:23.10px;height:6.60px;background:#f2cc0c;border-radius:3.3px;"></div>
<span class="t" style="left:3606.17px;top:871.00px;font-size:19.86px;line-height:19.86px;color:#d0d0df;letter-spacing:1.020px;">$479</span>
<span class="t" style="left:3706.67px;top:871.00px;font-size:19.86px;line-height:19.86px;color:#d0d0df;letter-spacing:1.020px;">$479</span>
<div class="b" style="left:3132.90px;top:914.60px;width:23.10px;height:6.60px;background:#f2495c;border-radius:3.3px;"></div>
<span class="t" style="left:3606.17px;top:909.00px;font-size:19.86px;line-height:19.86px;color:#d0d0df;letter-spacing:1.020px;">$222</span>
<span class="t" style="left:3706.67px;top:909.00px;font-size:19.86px;line-height:19.86px;color:#d0d0df;letter-spacing:1.020px;">$222</span>
<div class="b" style="left:3132.90px;top:952.35px;width:23.10px;height:6.60px;background:#5794f2;border-radius:3.3px;"></div>
<span class="t" style="left:3610.19px;top:947.00px;font-size:19.86px;line-height:19.86px;color:#d0d0df;letter-spacing:-0.350px;">$185</span>
<span class="t" style="left:3710.69px;top:947.00px;font-size:19.86px;line-height:19.86px;color:#d0d0df;letter-spacing:-0.350px;">$185</span>
<div class="b" style="left:3132.90px;top:990.00px;width:23.10px;height:6.60px;background:#73bf69;border-radius:3.3px;"></div>
<span class="t" style="left:3600.25px;top:984.00px;font-size:19.86px;line-height:19.86px;color:#d0d0df;letter-spacing:0.841px;">$59.6</span>
<span class="t" style="left:3700.75px;top:984.00px;font-size:19.86px;line-height:19.86px;color:#d0d0df;letter-spacing:0.841px;">$59.6</span>
<div class="b" style="left:3132.90px;top:1027.50px;width:23.10px;height:6.60px;background:#ff9830;border-radius:3.3px;"></div>
<span class="t" style="left:3600.25px;top:1022.00px;font-size:19.86px;line-height:19.86px;color:#d0d0df;letter-spacing:0.841px;">$29.8</span>
<span class="t" style="left:3700.75px;top:1022.00px;font-size:19.86px;line-height:19.86px;color:#d0d0df;letter-spacing:0.841px;">$29.8</span>
<svg class="b" style="left:3165.80px;top:867.60px;shape-rendering:crispEdges;" width="375.30" height="186.20" viewBox="3165.80 867.60 375.30 186.20"><rect x="3165.8" y="867.6" width="375.2999999999997" height="186.19999999999993" fill="#111215"/><path d="M3165.8 867.6h6.15v6.21h-6.15zM3208.9 867.6h6.15v6.21h-6.15zM3227.3 867.6h6.15v6.21h-6.15zM3362.7 867.6h6.15v6.21h-6.15zM3375.0 867.6h6.15v6.21h-6.15zM3528.8 867.6h6.15v6.21h-6.15zM3221.2 873.8h6.15v6.21h-6.15zM3356.5 873.8h6.15v6.21h-6.15zM3368.8 873.8h6.15v6.21h-6.15zM3491.9 873.8h6.15v6.21h-6.15zM3516.5 873.8h6.15v6.21h-6.15zM3172.0 880.0h6.15v6.21h-6.15zM3418.1 880.0h6.15v6.21h-6.15zM3498.0 880.0h6.15v6.21h-6.15zM3190.4 886.2h6.15v6.21h-6.15zM3362.7 886.2h6.15v6.21h-6.15zM3375.0 886.2h6.15v6.21h-6.15zM3411.9 886.2h6.15v6.21h-6.15zM3424.2 886.2h6.15v6.21h-6.15zM3461.1 886.2h6.15v6.21h-6.15zM3479.6 886.2h6.15v6.21h-6.15zM3510.3 886.2h6.15v6.21h-6.15zM3528.8 886.2h6.15v6.21h-6.15zM3172.0 892.4h6.15v6.21h-6.15zM3178.1 892.4h6.15v6.21h-6.15zM3288.8 892.4h6.15v6.21h-6.15zM3301.2 892.4h6.15v6.21h-6.15zM3405.7 892.4h6.15v6.21h-6.15zM3418.1 892.4h6.15v6.21h-6.15zM3448.8 892.4h6.15v6.21h-6.15zM3461.1 892.4h6.15v6.21h-6.15zM3491.9 892.4h6.15v6.21h-6.15zM3522.6 892.4h6.15v6.21h-6.15zM3196.6 898.6h6.15v6.21h-6.15zM3233.5 898.6h6.15v6.21h-6.15zM3455.0 898.6h6.15v6.21h-6.15zM3461.1 898.6h6.15v6.21h-6.15zM3510.3 898.6h6.15v6.21h-6.15zM3190.4 904.8h6.15v6.21h-6.15zM3202.7 904.8h6.15v6.21h-6.15zM3233.5 904.8h6.15v6.21h-6.15zM3251.9 904.8h6.15v6.21h-6.15zM3215.0 911.0h6.15v6.21h-6.15zM3258.1 911.0h6.15v6.21h-6.15zM3313.5 911.0h6.15v6.21h-6.15zM3350.4 911.0h6.15v6.21h-6.15zM3405.7 911.0h6.15v6.21h-6.15zM3418.1 911.0h6.15v6.21h-6.15zM3430.4 911.0h6.15v6.21h-6.15zM3479.6 911.0h6.15v6.21h-6.15zM3522.6 911.0h6.15v6.21h-6.15zM3534.9 911.0h6.15v6.21h-6.15zM3196.6 917.3h6.15v6.21h-6.15zM3245.8 917.3h6.15v6.21h-6.15zM3319.6 917.3h6.15v6.21h-6.15zM3430.4 917.3h6.15v6.21h-6.15zM3510.3 917.3h6.15v6.21h-6.15zM3215.0 923.5h6.15v6.21h-6.15zM3239.6 923.5h6.15v6.21h-6.15zM3270.4 923.5h6.15v6.21h-6.15zM3276.5 923.5h6.15v6.21h-6.15zM3288.8 923.5h6.15v6.21h-6.15zM3295.0 923.5h6.15v6.21h-6.15zM3301.2 923.5h6.15v6.21h-6.15zM3331.9 923.5h6.15v6.21h-6.15zM3375.0 923.5h6.15v6.21h-6.15zM3399.6 923.5h6.15v6.21h-6.15zM3461.1 923.5h6.15v6.21h-6.15zM3522.6 923.5h6.15v6.21h-6.15zM3178.1 929.7h6.15v6.21h-6.15zM3184.3 929.7h6.15v6.21h-6.15zM3227.3 929.7h6.15v6.21h-6.15zM3356.5 929.7h6.15v6.21h-6.15zM3498.0 929.7h6.15v6.21h-6.15zM3504.2 929.7h6.15v6.21h-6.15zM3522.6 929.7h6.15v6.21h-6.15zM3233.5 935.9h6.15v6.21h-6.15zM3313.5 935.9h6.15v6.21h-6.15zM3393.4 935.9h6.15v6.21h-6.15zM3430.4 935.9h6.15v6.21h-6.15zM3448.8 935.9h6.15v6.21h-6.15zM3498.0 935.9h6.15v6.21h-6.15zM3184.3 942.1h6.15v6.21h-6.15zM3208.9 942.1h6.15v6.21h-6.15zM3251.9 942.1h6.15v6.21h-6.15zM3282.7 942.1h6.15v6.21h-6.15zM3288.8 942.1h6.15v6.21h-6.15zM3331.9 942.1h6.15v6.21h-6.15zM3485.7 942.1h6.15v6.21h-6.15zM3534.9 942.1h6.15v6.21h-6.15zM3215.0 948.3h6.15v6.21h-6.15zM3221.2 948.3h6.15v6.21h-6.15zM3239.6 948.3h6.15v6.21h-6.15zM3288.8 948.3h6.15v6.21h-6.15zM3307.3 948.3h6.15v6.21h-6.15zM3368.8 948.3h6.15v6.21h-6.15zM3442.7 948.3h6.15v6.21h-6.15zM3479.6 948.3h6.15v6.21h-6.15zM3245.8 954.5h6.15v6.21h-6.15zM3270.4 954.5h6.15v6.21h-6.15zM3276.5 954.5h6.15v6.21h-6.15zM3307.3 954.5h6.15v6.21h-6.15zM3356.5 954.5h6.15v6.21h-6.15zM3510.3 954.5h6.15v6.21h-6.15zM3178.1 960.7h6.15v6.21h-6.15zM3190.4 960.7h6.15v6.21h-6.15zM3208.9 960.7h6.15v6.21h-6.15zM3282.7 960.7h6.15v6.21h-6.15zM3356.5 960.7h6.15v6.21h-6.15zM3375.0 960.7h6.15v6.21h-6.15zM3387.3 960.7h6.15v6.21h-6.15zM3411.9 960.7h6.15v6.21h-6.15zM3473.4 960.7h6.15v6.21h-6.15zM3528.8 960.7h6.15v6.21h-6.15zM3325.8 966.9h6.15v6.21h-6.15zM3344.2 966.9h6.15v6.21h-6.15zM3381.1 966.9h6.15v6.21h-6.15zM3387.3 966.9h6.15v6.21h-6.15zM3399.6 966.9h6.15v6.21h-6.15zM3461.1 966.9h6.15v6.21h-6.15zM3485.7 966.9h6.15v6.21h-6.15zM3165.8 973.1h6.15v6.21h-6.15zM3178.1 973.1h6.15v6.21h-6.15zM3233.5 973.1h6.15v6.21h-6.15zM3251.9 973.1h6.15v6.21h-6.15zM3276.5 973.1h6.15v6.21h-6.15zM3331.9 973.1h6.15v6.21h-6.15zM3338.1 973.1h6.15v6.21h-6.15zM3350.4 973.1h6.15v6.21h-6.15zM3424.2 973.1h6.15v6.21h-6.15zM3455.0 973.1h6.15v6.21h-6.15zM3473.4 973.1h6.15v6.21h-6.15zM3178.1 979.3h6.15v6.21h-6.15zM3381.1 979.3h6.15v6.21h-6.15zM3399.6 979.3h6.15v6.21h-6.15zM3418.1 979.3h6.15v6.21h-6.15zM3491.9 979.3h6.15v6.21h-6.15zM3498.0 979.3h6.15v6.21h-6.15zM3202.7 985.5h6.15v6.21h-6.15zM3251.9 985.5h6.15v6.21h-6.15zM3258.1 985.5h6.15v6.21h-6.15zM3276.5 985.5h6.15v6.21h-6.15zM3325.8 985.5h6.15v6.21h-6.15zM3362.7 985.5h6.15v6.21h-6.15zM3504.2 985.5h6.15v6.21h-6.15zM3522.6 985.5h6.15v6.21h-6.15zM3251.9 991.7h6.15v6.21h-6.15zM3282.7 991.7h6.15v6.21h-6.15zM3356.5 991.7h6.15v6.21h-6.15zM3473.4 991.7h6.15v6.21h-6.15zM3528.8 991.7h6.15v6.21h-6.15zM3165.8 997.9h6.15v6.21h-6.15zM3215.0 997.9h6.15v6.21h-6.15zM3233.5 997.9h6.15v6.21h-6.15zM3264.2 997.9h6.15v6.21h-6.15zM3270.4 997.9h6.15v6.21h-6.15zM3307.3 997.9h6.15v6.21h-6.15zM3338.1 997.9h6.15v6.21h-6.15zM3387.3 997.9h6.15v6.21h-6.15zM3405.7 997.9h6.15v6.21h-6.15zM3418.1 997.9h6.15v6.21h-6.15zM3436.5 997.9h6.15v6.21h-6.15zM3442.7 997.9h6.15v6.21h-6.15zM3504.2 997.9h6.15v6.21h-6.15zM3190.4 1004.1h6.15v6.21h-6.15zM3251.9 1004.1h6.15v6.21h-6.15zM3301.2 1004.1h6.15v6.21h-6.15zM3344.2 1004.1h6.15v6.21h-6.15zM3276.5 1010.4h6.15v6.21h-6.15zM3282.7 1010.4h6.15v6.21h-6.15zM3319.6 1010.4h6.15v6.21h-6.15zM3325.8 1010.4h6.15v6.21h-6.15zM3399.6 1010.4h6.15v6.21h-6.15zM3405.7 1010.4h6.15v6.21h-6.15zM3448.8 1010.4h6.15v6.21h-6.15zM3504.2 1010.4h6.15v6.21h-6.15zM3528.8 1010.4h6.15v6.21h-6.15zM3534.9 1010.4h6.15v6.21h-6.15zM3245.8 1016.6h6.15v6.21h-6.15zM3264.2 1016.6h6.15v6.21h-6.15zM3319.6 1016.6h6.15v6.21h-6.15zM3381.1 1016.6h6.15v6.21h-6.15zM3479.6 1016.6h6.15v6.21h-6.15zM3485.7 1016.6h6.15v6.21h-6.15zM3516.5 1016.6h6.15v6.21h-6.15zM3172.0 1022.8h6.15v6.21h-6.15zM3196.6 1022.8h6.15v6.21h-6.15zM3215.0 1022.8h6.15v6.21h-6.15zM3288.8 1022.8h6.15v6.21h-6.15zM3313.5 1022.8h6.15v6.21h-6.15zM3338.1 1022.8h6.15v6.21h-6.15zM3534.9 1022.8h6.15v6.21h-6.15zM3178.1 1029.0h6.15v6.21h-6.15zM3196.6 1029.0h6.15v6.21h-6.15zM3202.7 1029.0h6.15v6.21h-6.15zM3215.0 1029.0h6.15v6.21h-6.15zM3258.1 1029.0h6.15v6.21h-6.15zM3288.8 1029.0h6.15v6.21h-6.15zM3295.0 1029.0h6.15v6.21h-6.15zM3399.6 1029.0h6.15v6.21h-6.15zM3405.7 1029.0h6.15v6.21h-6.15zM3485.7 1029.0h6.15v6.21h-6.15zM3295.0 1035.2h6.15v6.21h-6.15zM3399.6 1035.2h6.15v6.21h-6.15zM3424.2 1035.2h6.15v6.21h-6.15zM3430.4 1035.2h6.15v6.21h-6.15zM3448.8 1035.2h6.15v6.21h-6.15zM3510.3 1035.2h6.15v6.21h-6.15zM3516.5 1035.2h6.15v6.21h-6.15zM3522.6 1035.2h6.15v6.21h-6.15zM3208.9 1041.4h6.15v6.21h-6.15zM3368.8 1041.4h6.15v6.21h-6.15zM3418.1 1041.4h6.15v6.21h-6.15zM3424.2 1041.4h6.15v6.21h-6.15zM3442.7 1041.4h6.15v6.21h-6.15zM3172.0 1047.6h6.15v6.21h-6.15zM3178.1 1047.6h6.15v6.21h-6.15zM3190.4 1047.6h6.15v6.21h-6.15zM3264.2 1047.6h6.15v6.21h-6.15zM3411.9 1047.6h6.15v6.21h-6.15zM3455.0 1047.6h6.15v6.21h-6.15zM3461.1 1047.6h6.15v6.21h-6.15zM3498.0 1047.6h6.15v6.21h-6.15zM3504.2 1047.6h6.15v6.21h-6.15zM3516.5 1047.6h6.15v6.21h-6.15z" fill="#26282b"/><path d="M3184.3 867.6h6.15v6.21h-6.15zM3196.6 867.6h6.15v6.21h-6.15zM3202.7 867.6h6.15v6.21h-6.15zM3276.5 867.6h6.15v6.21h-6.15zM3288.8 867.6h6.15v6.21h-6.15zM3331.9 867.6h6.15v6.21h-6.15zM3344.2 867.6h6.15v6.21h-6.15zM3356.5 867.6h6.15v6.21h-6.15zM3393.4 867.6h6.15v6.21h-6.15zM3399.6 867.6h6.15v6.21h-6.15zM3448.8 867.6h6.15v6.21h-6.15zM3227.3 873.8h6.15v6.21h-6.15zM3239.6 873.8h6.15v6.21h-6.15zM3245.8 873.8h6.15v6.21h-6.15zM3276.5 873.8h6.15v6.21h-6.15zM3282.7 873.8h6.15v6.21h-6.15zM3319.6 873.8h6.15v6.21h-6.15zM3325.8 873.8h6.15v6.21h-6.15zM3362.7 873.8h6.15v6.21h-6.15zM3381.1 873.8h6.15v6.21h-6.15zM3387.3 873.8h6.15v6.21h-6.15zM3418.1 873.8h6.15v6.21h-6.15zM3479.6 873.8h6.15v6.21h-6.15zM3485.7 873.8h6.15v6.21h-6.15zM3178.1 880.0h6.15v6.21h-6.15zM3202.7 880.0h6.15v6.21h-6.15zM3208.9 880.0h6.15v6.21h-6.15zM3239.6 880.0h6.15v6.21h-6.15zM3245.8 880.0h6.15v6.21h-6.15zM3282.7 880.0h6.15v6.21h-6.15zM3344.2 880.0h6.15v6.21h-6.15zM3350.4 880.0h6.15v6.21h-6.15zM3368.8 880.0h6.15v6.21h-6.15zM3436.5 880.0h6.15v6.21h-6.15zM3442.7 880.0h6.15v6.21h-6.15zM3455.0 880.0h6.15v6.21h-6.15zM3479.6 880.0h6.15v6.21h-6.15zM3202.7 886.2h6.15v6.21h-6.15zM3245.8 886.2h6.15v6.21h-6.15zM3319.6 886.2h6.15v6.21h-6.15zM3325.8 886.2h6.15v6.21h-6.15zM3387.3 886.2h6.15v6.21h-6.15zM3393.4 886.2h6.15v6.21h-6.15zM3405.7 886.2h6.15v6.21h-6.15zM3436.5 886.2h6.15v6.21h-6.15zM3504.2 886.2h6.15v6.21h-6.15zM3208.9 892.4h6.15v6.21h-6.15zM3215.0 892.4h6.15v6.21h-6.15zM3221.2 892.4h6.15v6.21h-6.15zM3233.5 892.4h6.15v6.21h-6.15zM3251.9 892.4h6.15v6.21h-6.15zM3393.4 892.4h6.15v6.21h-6.15zM3399.6 892.4h6.15v6.21h-6.15zM3455.0 892.4h6.15v6.21h-6.15zM3528.8 892.4h6.15v6.21h-6.15zM3534.9 892.4h6.15v6.21h-6.15zM3184.3 898.6h6.15v6.21h-6.15zM3221.2 898.6h6.15v6.21h-6.15zM3331.9 898.6h6.15v6.21h-6.15zM3362.7 898.6h6.15v6.21h-6.15zM3387.3 898.6h6.15v6.21h-6.15zM3393.4 898.6h6.15v6.21h-6.15zM3411.9 898.6h6.15v6.21h-6.15zM3418.1 898.6h6.15v6.21h-6.15zM3436.5 898.6h6.15v6.21h-6.15zM3498.0 898.6h6.15v6.21h-6.15zM3522.6 898.6h6.15v6.21h-6.15zM3528.8 898.6h6.15v6.21h-6.15zM3178.1 904.8h6.15v6.21h-6.15zM3184.3 904.8h6.15v6.21h-6.15zM3350.4 904.8h6.15v6.21h-6.15zM3356.5 904.8h6.15v6.21h-6.15zM3375.0 904.8h6.15v6.21h-6.15zM3430.4 904.8h6.15v6.21h-6.15zM3461.1 904.8h6.15v6.21h-6.15zM3479.6 904.8h6.15v6.21h-6.15zM3491.9 904.8h6.15v6.21h-6.15zM3528.8 904.8h6.15v6.21h-6.15zM3178.1 911.0h6.15v6.21h-6.15zM3202.7 911.0h6.15v6.21h-6.15zM3221.2 911.0h6.15v6.21h-6.15zM3245.8 911.0h6.15v6.21h-6.15zM3270.4 911.0h6.15v6.21h-6.15zM3319.6 911.0h6.15v6.21h-6.15zM3356.5 911.0h6.15v6.21h-6.15zM3362.7 911.0h6.15v6.21h-6.15zM3368.8 911.0h6.15v6.21h-6.15zM3485.7 911.0h6.15v6.21h-6.15zM3491.9 911.0h6.15v6.21h-6.15zM3510.3 911.0h6.15v6.21h-6.15zM3516.5 911.0h6.15v6.21h-6.15zM3215.0 917.3h6.15v6.21h-6.15zM3233.5 917.3h6.15v6.21h-6.15zM3301.2 917.3h6.15v6.21h-6.15zM3313.5 917.3h6.15v6.21h-6.15zM3399.6 917.3h6.15v6.21h-6.15zM3442.7 917.3h6.15v6.21h-6.15zM3491.9 917.3h6.15v6.21h-6.15zM3528.8 917.3h6.15v6.21h-6.15zM3350.4 923.5h6.15v6.21h-6.15zM3362.7 923.5h6.15v6.21h-6.15zM3368.8 923.5h6.15v6.21h-6.15zM3411.9 923.5h6.15v6.21h-6.15zM3430.4 923.5h6.15v6.21h-6.15zM3442.7 923.5h6.15v6.21h-6.15zM3467.3 923.5h6.15v6.21h-6.15zM3479.6 923.5h6.15v6.21h-6.15zM3491.9 923.5h6.15v6.21h-6.15zM3510.3 923.5h6.15v6.21h-6.15zM3239.6 929.7h6.15v6.21h-6.15zM3264.2 929.7h6.15v6.21h-6.15zM3282.7 929.7h6.15v6.21h-6.15zM3307.3 929.7h6.15v6.21h-6.15zM3362.7 929.7h6.15v6.21h-6.15zM3368.8 929.7h6.15v6.21h-6.15zM3393.4 929.7h6.15v6.21h-6.15zM3405.7 929.7h6.15v6.21h-6.15zM3442.7 929.7h6.15v6.21h-6.15zM3455.0 929.7h6.15v6.21h-6.15zM3479.6 929.7h6.15v6.21h-6.15zM3491.9 929.7h6.15v6.21h-6.15zM3510.3 929.7h6.15v6.21h-6.15zM3528.8 929.7h6.15v6.21h-6.15zM3165.8 935.9h6.15v6.21h-6.15zM3178.1 935.9h6.15v6.21h-6.15zM3215.0 935.9h6.15v6.21h-6.15zM3276.5 935.9h6.15v6.21h-6.15zM3288.8 935.9h6.15v6.21h-6.15zM3319.6 935.9h6.15v6.21h-6.15zM3325.8 935.9h6.15v6.21h-6.15zM3338.1 935.9h6.15v6.21h-6.15zM3350.4 935.9h6.15v6.21h-6.15zM3356.5 935.9h6.15v6.21h-6.15zM3381.1 935.9h6.15v6.21h-6.15zM3442.7 935.9h6.15v6.21h-6.15zM3467.3 935.9h6.15v6.21h-6.15zM3473.4 935.9h6.15v6.21h-6.15zM3522.6 935.9h6.15v6.21h-6.15zM3528.8 935.9h6.15v6.21h-6.15zM3276.5 942.1h6.15v6.21h-6.15zM3295.0 942.1h6.15v6.21h-6.15zM3350.4 942.1h6.15v6.21h-6.15zM3368.8 942.1h6.15v6.21h-6.15zM3381.1 942.1h6.15v6.21h-6.15zM3424.2 942.1h6.15v6.21h-6.15zM3430.4 942.1h6.15v6.21h-6.15zM3479.6 942.1h6.15v6.21h-6.15zM3498.0 942.1h6.15v6.21h-6.15zM3208.9 948.3h6.15v6.21h-6.15zM3264.2 948.3h6.15v6.21h-6.15zM3295.0 948.3h6.15v6.21h-6.15zM3338.1 948.3h6.15v6.21h-6.15zM3356.5 948.3h6.15v6.21h-6.15zM3411.9 948.3h6.15v6.21h-6.15zM3467.3 948.3h6.15v6.21h-6.15zM3516.5 948.3h6.15v6.21h-6.15zM3528.8 948.3h6.15v6.21h-6.15zM3202.7 954.5h6.15v6.21h-6.15zM3227.3 954.5h6.15v6.21h-6.15zM3282.7 954.5h6.15v6.21h-6.15zM3288.8 954.5h6.15v6.21h-6.15zM3301.2 954.5h6.15v6.21h-6.15zM3319.6 954.5h6.15v6.21h-6.15zM3325.8 954.5h6.15v6.21h-6.15zM3331.9 954.5h6.15v6.21h-6.15zM3375.0 954.5h6.15v6.21h-6.15zM3405.7 954.5h6.15v6.21h-6.15zM3418.1 954.5h6.15v6.21h-6.15zM3430.4 954.5h6.15v6.21h-6.15zM3479.6 954.5h6.15v6.21h-6.15zM3491.9 954.5h6.15v6.21h-6.15zM3516.5 954.5h6.15v6.21h-6.15zM3522.6 954.5h6.15v6.21h-6.15zM3245.8 960.7h6.15v6.21h-6.15zM3264.2 960.7h6.15v6.21h-6.15zM3362.7 960.7h6.15v6.21h-6.15zM3368.8 960.7h6.15v6.21h-6.15zM3467.3 960.7h6.15v6.21h-6.15zM3491.9 960.7h6.15v6.21h-6.15zM3516.5 960.7h6.15v6.21h-6.15zM3522.6 960.7h6.15v6.21h-6.15zM3534.9 960.7h6.15v6.21h-6.15zM3172.0 966.9h6.15v6.21h-6.15zM3184.3 966.9h6.15v6.21h-6.15zM3208.9 966.9h6.15v6.21h-6.15zM3221.2 966.9h6.15v6.21h-6.15zM3264.2 966.9h6.15v6.21h-6.15zM3288.8 966.9h6.15v6.21h-6.15zM3375.0 966.9h6.15v6.21h-6.15zM3430.4 966.9h6.15v6.21h-6.15zM3436.5 966.9h6.15v6.21h-6.15zM3467.3 966.9h6.15v6.21h-6.15zM3491.9 966.9h6.15v6.21h-6.15zM3184.3 973.1h6.15v6.21h-6.15zM3190.4 973.1h6.15v6.21h-6.15zM3227.3 973.1h6.15v6.21h-6.15zM3270.4 973.1h6.15v6.21h-6.15zM3288.8 973.1h6.15v6.21h-6.15zM3325.8 973.1h6.15v6.21h-6.15zM3356.5 973.1h6.15v6.21h-6.15zM3368.8 973.1h6.15v6.21h-6.15zM3375.0 973.1h6.15v6.21h-6.15zM3442.7 973.1h6.15v6.21h-6.15zM3479.6 973.1h6.15v6.21h-6.15zM3504.2 973.1h6.15v6.21h-6.15zM3528.8 973.1h6.15v6.21h-6.15zM3190.4 979.3h6.15v6.21h-6.15zM3215.0 979.3h6.15v6.21h-6.15zM3221.2 979.3h6.15v6.21h-6.15zM3245.8 979.3h6.15v6.21h-6.15zM3258.1 979.3h6.15v6.21h-6.15zM3307.3 979.3h6.15v6.21h-6.15zM3325.8 979.3h6.15v6.21h-6.15zM3344.2 979.3h6.15v6.21h-6.15zM3356.5 979.3h6.15v6.21h-6.15zM3516.5 979.3h6.15v6.21h-6.15zM3264.2 985.5h6.15v6.21h-6.15zM3356.5 985.5h6.15v6.21h-6.15zM3368.8 985.5h6.15v6.21h-6.15zM3399.6 985.5h6.15v6.21h-6.15zM3418.1 985.5h6.15v6.21h-6.15zM3461.1 985.5h6.15v6.21h-6.15zM3467.3 985.5h6.15v6.21h-6.15zM3534.9 985.5h6.15v6.21h-6.15zM3178.1 991.7h6.15v6.21h-6.15zM3288.8 991.7h6.15v6.21h-6.15zM3331.9 991.7h6.15v6.21h-6.15zM3375.0 991.7h6.15v6.21h-6.15zM3393.4 991.7h6.15v6.21h-6.15zM3424.2 991.7h6.15v6.21h-6.15zM3448.8 991.7h6.15v6.21h-6.15zM3485.7 991.7h6.15v6.21h-6.15zM3178.1 997.9h6.15v6.21h-6.15zM3184.3 997.9h6.15v6.21h-6.15zM3258.1 997.9h6.15v6.21h-6.15zM3288.8 997.9h6.15v6.21h-6.15zM3393.4 997.9h6.15v6.21h-6.15zM3399.6 997.9h6.15v6.21h-6.15zM3448.8 997.9h6.15v6.21h-6.15zM3461.1 997.9h6.15v6.21h-6.15zM3498.0 997.9h6.15v6.21h-6.15zM3528.8 997.9h6.15v6.21h-6.15zM3202.7 1004.1h6.15v6.21h-6.15zM3270.4 1004.1h6.15v6.21h-6.15zM3282.7 1004.1h6.15v6.21h-6.15zM3307.3 1004.1h6.15v6.21h-6.15zM3325.8 1004.1h6.15v6.21h-6.15zM3338.1 1004.1h6.15v6.21h-6.15zM3362.7 1004.1h6.15v6.21h-6.15zM3368.8 1004.1h6.15v6.21h-6.15zM3381.1 1004.1h6.15v6.21h-6.15zM3399.6 1004.1h6.15v6.21h-6.15zM3424.2 1004.1h6.15v6.21h-6.15zM3436.5 1004.1h6.15v6.21h-6.15zM3510.3 1004.1h6.15v6.21h-6.15zM3516.5 1004.1h6.15v6.21h-6.15zM3172.0 1010.4h6.15v6.21h-6.15zM3190.4 1010.4h6.15v6.21h-6.15zM3245.8 1010.4h6.15v6.21h-6.15zM3264.2 1010.4h6.15v6.21h-6.15zM3288.8 1010.4h6.15v6.21h-6.15zM3331.9 1010.4h6.15v6.21h-6.15zM3338.1 1010.4h6.15v6.21h-6.15zM3387.3 1010.4h6.15v6.21h-6.15zM3393.4 1010.4h6.15v6.21h-6.15zM3430.4 1010.4h6.15v6.21h-6.15zM3455.0 1010.4h6.15v6.21h-6.15zM3510.3 1010.4h6.15v6.21h-6.15zM3172.0 1016.6h6.15v6.21h-6.15zM3178.1 1016.6h6.15v6.21h-6.15zM3190.4 1016.6h6.15v6.21h-6.15zM3239.6 1016.6h6.15v6.21h-6.15zM3270.4 1016.6h6.15v6.21h-6.15zM3288.8 1016.6h6.15v6.21h-6.15zM3295.0 1016.6h6.15v6.21h-6.15zM3301.2 1016.6h6.15v6.21h-6.15zM3307.3 1016.6h6.15v6.21h-6.15zM3325.8 1016.6h6.15v6.21h-6.15zM3387.3 1016.6h6.15v6.21h-6.15zM3393.4 1016.6h6.15v6.21h-6.15zM3399.6 1016.6h6.15v6.21h-6.15zM3411.9 1016.6h6.15v6.21h-6.15zM3430.4 1016.6h6.15v6.21h-6.15zM3442.7 1016.6h6.15v6.21h-6.15zM3510.3 1016.6h6.15v6.21h-6.15zM3184.3 1022.8h6.15v6.21h-6.15zM3202.7 1022.8h6.15v6.21h-6.15zM3245.8 1022.8h6.15v6.21h-6.15zM3282.7 1022.8h6.15v6.21h-6.15zM3301.2 1022.8h6.15v6.21h-6.15zM3319.6 1022.8h6.15v6.21h-6.15zM3356.5 1022.8h6.15v6.21h-6.15zM3399.6 1022.8h6.15v6.21h-6.15zM3473.4 1022.8h6.15v6.21h-6.15zM3479.6 1022.8h6.15v6.21h-6.15zM3491.9 1022.8h6.15v6.21h-6.15zM3522.6 1022.8h6.15v6.21h-6.15zM3208.9 1029.0h6.15v6.21h-6.15zM3221.2 1029.0h6.15v6.21h-6.15zM3282.7 1029.0h6.15v6.21h-6.15zM3344.2 1029.0h6.15v6.21h-6.15zM3418.1 1029.0h6.15v6.21h-6.15zM3461.1 1029.0h6.15v6.21h-6.15zM3172.0 1035.2h6.15v6.21h-6.15zM3184.3 1035.2h6.15v6.21h-6.15zM3245.8 1035.2h6.15v6.21h-6.15zM3264.2 1035.2h6.15v6.21h-6.15zM3331.9 1035.2h6.15v6.21h-6.15zM3375.0 1035.2h6.15v6.21h-6.15zM3485.7 1035.2h6.15v6.21h-6.15zM3165.8 1041.4h6.15v6.21h-6.15zM3350.4 1041.4h6.15v6.21h-6.15zM3381.1 1041.4h6.15v6.21h-6.15zM3411.9 1041.4h6.15v6.21h-6.15zM3479.6 1041.4h6.15v6.21h-6.15zM3510.3 1041.4h6.15v6.21h-6.15zM3522.6 1041.4h6.15v6.21h-6.15zM3215.0 1047.6h6.15v6.21h-6.15zM3245.8 1047.6h6.15v6.21h-6.15zM3270.4 1047.6h6.15v6.21h-6.15zM3276.5 1047.6h6.15v6.21h-6.15zM3295.0 1047.6h6.15v6.21h-6.15zM3307.3 1047.6h6.15v6.21h-6.15zM3331.9 1047.6h6.15v6.21h-6.15zM3338.1 1047.6h6.15v6.21h-6.15zM3350.4 1047.6h6.15v6.21h-6.15zM3362.7 1047.6h6.15v6.21h-6.15zM3375.0 1047.6h6.15v6.21h-6.15zM3381.1 1047.6h6.15v6.21h-6.15zM3393.4 1047.6h6.15v6.21h-6.15zM3418.1 1047.6h6.15v6.21h-6.15zM3479.6 1047.6h6.15v6.21h-6.15z" fill="#1b1c1f"/><path d="M3190.4 867.6h6.15v6.21h-6.15zM3319.6 867.6h6.15v6.21h-6.15zM3387.3 867.6h6.15v6.21h-6.15zM3436.5 867.6h6.15v6.21h-6.15zM3498.0 867.6h6.15v6.21h-6.15zM3516.5 867.6h6.15v6.21h-6.15zM3522.6 867.6h6.15v6.21h-6.15zM3184.3 873.8h6.15v6.21h-6.15zM3430.4 873.8h6.15v6.21h-6.15zM3455.0 873.8h6.15v6.21h-6.15zM3498.0 873.8h6.15v6.21h-6.15zM3301.2 880.0h6.15v6.21h-6.15zM3411.9 880.0h6.15v6.21h-6.15zM3467.3 880.0h6.15v6.21h-6.15zM3184.3 886.2h6.15v6.21h-6.15zM3368.8 886.2h6.15v6.21h-6.15zM3516.5 886.2h6.15v6.21h-6.15zM3245.8 892.4h6.15v6.21h-6.15zM3258.1 892.4h6.15v6.21h-6.15zM3516.5 892.4h6.15v6.21h-6.15zM3172.0 898.6h6.15v6.21h-6.15zM3239.6 898.6h6.15v6.21h-6.15zM3251.9 898.6h6.15v6.21h-6.15zM3424.2 898.6h6.15v6.21h-6.15zM3221.2 904.8h6.15v6.21h-6.15zM3239.6 904.8h6.15v6.21h-6.15zM3295.0 904.8h6.15v6.21h-6.15zM3331.9 904.8h6.15v6.21h-6.15zM3387.3 904.8h6.15v6.21h-6.15zM3165.8 911.0h6.15v6.21h-6.15zM3172.0 911.0h6.15v6.21h-6.15zM3436.5 911.0h6.15v6.21h-6.15zM3442.7 911.0h6.15v6.21h-6.15zM3498.0 911.0h6.15v6.21h-6.15zM3208.9 917.3h6.15v6.21h-6.15zM3325.8 917.3h6.15v6.21h-6.15zM3368.8 917.3h6.15v6.21h-6.15zM3405.7 917.3h6.15v6.21h-6.15zM3227.3 923.5h6.15v6.21h-6.15zM3251.9 923.5h6.15v6.21h-6.15zM3282.7 923.5h6.15v6.21h-6.15zM3356.5 923.5h6.15v6.21h-6.15zM3436.5 923.5h6.15v6.21h-6.15zM3245.8 929.7h6.15v6.21h-6.15zM3313.5 929.7h6.15v6.21h-6.15zM3411.9 929.7h6.15v6.21h-6.15zM3196.6 935.9h6.15v6.21h-6.15zM3461.1 935.9h6.15v6.21h-6.15zM3221.2 942.1h6.15v6.21h-6.15zM3344.2 942.1h6.15v6.21h-6.15zM3190.4 948.3h6.15v6.21h-6.15zM3455.0 948.3h6.15v6.21h-6.15zM3510.3 948.3h6.15v6.21h-6.15zM3165.8 954.5h6.15v6.21h-6.15zM3196.6 954.5h6.15v6.21h-6.15zM3233.5 954.5h6.15v6.21h-6.15zM3368.8 954.5h6.15v6.21h-6.15zM3436.5 954.5h6.15v6.21h-6.15zM3448.8 954.5h6.15v6.21h-6.15zM3461.1 954.5h6.15v6.21h-6.15zM3448.8 960.7h6.15v6.21h-6.15zM3239.6 966.9h6.15v6.21h-6.15zM3215.0 973.1h6.15v6.21h-6.15zM3313.5 973.1h6.15v6.21h-6.15zM3399.6 973.1h6.15v6.21h-6.15zM3510.3 973.1h6.15v6.21h-6.15zM3172.0 979.3h6.15v6.21h-6.15zM3227.3 979.3h6.15v6.21h-6.15zM3270.4 979.3h6.15v6.21h-6.15zM3319.6 979.3h6.15v6.21h-6.15zM3393.4 979.3h6.15v6.21h-6.15zM3424.2 979.3h6.15v6.21h-6.15zM3430.4 979.3h6.15v6.21h-6.15zM3436.5 979.3h6.15v6.21h-6.15zM3190.4 985.5h6.15v6.21h-6.15zM3233.5 985.5h6.15v6.21h-6.15zM3393.4 985.5h6.15v6.21h-6.15zM3436.5 985.5h6.15v6.21h-6.15zM3498.0 985.5h6.15v6.21h-6.15zM3184.3 991.7h6.15v6.21h-6.15zM3239.6 991.7h6.15v6.21h-6.15zM3245.8 991.7h6.15v6.21h-6.15zM3270.4 991.7h6.15v6.21h-6.15zM3362.7 991.7h6.15v6.21h-6.15zM3368.8 991.7h6.15v6.21h-6.15zM3387.3 991.7h6.15v6.21h-6.15zM3430.4 991.7h6.15v6.21h-6.15zM3461.1 991.7h6.15v6.21h-6.15zM3467.3 991.7h6.15v6.21h-6.15zM3172.0 997.9h6.15v6.21h-6.15zM3196.6 997.9h6.15v6.21h-6.15zM3227.3 997.9h6.15v6.21h-6.15zM3215.0 1004.1h6.15v6.21h-6.15zM3356.5 1004.1h6.15v6.21h-6.15zM3375.0 1004.1h6.15v6.21h-6.15zM3202.7 1010.4h6.15v6.21h-6.15zM3344.2 1010.4h6.15v6.21h-6.15zM3362.7 1016.6h6.15v6.21h-6.15zM3165.8 1022.8h6.15v6.21h-6.15zM3221.2 1022.8h6.15v6.21h-6.15zM3331.9 1022.8h6.15v6.21h-6.15zM3467.3 1022.8h6.15v6.21h-6.15zM3504.2 1022.8h6.15v6.21h-6.15zM3172.0 1029.0h6.15v6.21h-6.15zM3319.6 1029.0h6.15v6.21h-6.15zM3387.3 1029.0h6.15v6.21h-6.15zM3436.5 1029.0h6.15v6.21h-6.15zM3165.8 1035.2h6.15v6.21h-6.15zM3190.4 1035.2h6.15v6.21h-6.15zM3196.6 1035.2h6.15v6.21h-6.15zM3221.2 1035.2h6.15v6.21h-6.15zM3258.1 1035.2h6.15v6.21h-6.15zM3313.5 1035.2h6.15v6.21h-6.15zM3350.4 1035.2h6.15v6.21h-6.15zM3405.7 1035.2h6.15v6.21h-6.15zM3418.1 1035.2h6.15v6.21h-6.15zM3473.4 1035.2h6.15v6.21h-6.15zM3534.9 1035.2h6.15v6.21h-6.15zM3190.4 1041.4h6.15v6.21h-6.15zM3276.5 1041.4h6.15v6.21h-6.15zM3282.7 1041.4h6.15v6.21h-6.15zM3319.6 1041.4h6.15v6.21h-6.15zM3338.1 1041.4h6.15v6.21h-6.15zM3387.3 1041.4h6.15v6.21h-6.15zM3430.4 1041.4h6.15v6.21h-6.15zM3356.5 1047.6h6.15v6.21h-6.15z" fill="#323437"/><path d="M3215.0 867.6h6.15v6.21h-6.15zM3239.6 867.6h6.15v6.21h-6.15zM3264.2 867.6h6.15v6.21h-6.15zM3405.7 867.6h6.15v6.21h-6.15zM3411.9 867.6h6.15v6.21h-6.15zM3479.6 867.6h6.15v6.21h-6.15zM3485.7 867.6h6.15v6.21h-6.15zM3491.9 867.6h6.15v6.21h-6.15zM3504.2 867.6h6.15v6.21h-6.15zM3190.4 873.8h6.15v6.21h-6.15zM3264.2 873.8h6.15v6.21h-6.15zM3301.2 873.8h6.15v6.21h-6.15zM3338.1 873.8h6.15v6.21h-6.15zM3338.1 880.0h6.15v6.21h-6.15zM3430.4 880.0h6.15v6.21h-6.15zM3208.9 886.2h6.15v6.21h-6.15zM3467.3 886.2h6.15v6.21h-6.15zM3227.3 892.4h6.15v6.21h-6.15zM3331.9 892.4h6.15v6.21h-6.15zM3411.9 892.4h6.15v6.21h-6.15zM3424.2 892.4h6.15v6.21h-6.15zM3245.8 898.6h6.15v6.21h-6.15zM3270.4 898.6h6.15v6.21h-6.15zM3344.2 898.6h6.15v6.21h-6.15zM3534.9 898.6h6.15v6.21h-6.15zM3313.5 904.8h6.15v6.21h-6.15zM3411.9 904.8h6.15v6.21h-6.15zM3442.7 904.8h6.15v6.21h-6.15zM3233.5 911.0h6.15v6.21h-6.15zM3331.9 911.0h6.15v6.21h-6.15zM3190.4 917.3h6.15v6.21h-6.15zM3331.9 917.3h6.15v6.21h-6.15zM3436.5 917.3h6.15v6.21h-6.15zM3448.8 917.3h6.15v6.21h-6.15zM3461.1 917.3h6.15v6.21h-6.15zM3190.4 923.5h6.15v6.21h-6.15zM3264.2 923.5h6.15v6.21h-6.15zM3405.7 923.5h6.15v6.21h-6.15zM3455.0 923.5h6.15v6.21h-6.15zM3534.9 923.5h6.15v6.21h-6.15zM3165.8 929.7h6.15v6.21h-6.15zM3338.1 929.7h6.15v6.21h-6.15zM3208.9 935.9h6.15v6.21h-6.15zM3227.3 935.9h6.15v6.21h-6.15zM3455.0 935.9h6.15v6.21h-6.15zM3485.7 935.9h6.15v6.21h-6.15zM3516.5 935.9h6.15v6.21h-6.15zM3215.0 942.1h6.15v6.21h-6.15zM3307.3 942.1h6.15v6.21h-6.15zM3399.6 942.1h6.15v6.21h-6.15zM3448.8 942.1h6.15v6.21h-6.15zM3202.7 948.3h6.15v6.21h-6.15zM3319.6 948.3h6.15v6.21h-6.15zM3184.3 954.5h6.15v6.21h-6.15zM3215.0 954.5h6.15v6.21h-6.15zM3455.0 954.5h6.15v6.21h-6.15zM3196.6 960.7h6.15v6.21h-6.15zM3301.2 960.7h6.15v6.21h-6.15zM3307.3 960.7h6.15v6.21h-6.15zM3245.8 966.9h6.15v6.21h-6.15zM3331.9 966.9h6.15v6.21h-6.15zM3393.4 966.9h6.15v6.21h-6.15zM3344.2 973.1h6.15v6.21h-6.15zM3491.9 973.1h6.15v6.21h-6.15zM3202.7 979.3h6.15v6.21h-6.15zM3368.8 979.3h6.15v6.21h-6.15zM3442.7 979.3h6.15v6.21h-6.15zM3467.3 979.3h6.15v6.21h-6.15zM3522.6 979.3h6.15v6.21h-6.15zM3208.9 985.5h6.15v6.21h-6.15zM3491.9 985.5h6.15v6.21h-6.15zM3516.5 985.5h6.15v6.21h-6.15zM3165.8 991.7h6.15v6.21h-6.15zM3202.7 991.7h6.15v6.21h-6.15zM3344.2 991.7h6.15v6.21h-6.15zM3381.1 991.7h6.15v6.21h-6.15zM3418.1 991.7h6.15v6.21h-6.15zM3202.7 997.9h6.15v6.21h-6.15zM3276.5 997.9h6.15v6.21h-6.15zM3295.0 997.9h6.15v6.21h-6.15zM3381.1 997.9h6.15v6.21h-6.15zM3479.6 997.9h6.15v6.21h-6.15zM3184.3 1004.1h6.15v6.21h-6.15zM3221.2 1004.1h6.15v6.21h-6.15zM3227.3 1004.1h6.15v6.21h-6.15zM3239.6 1004.1h6.15v6.21h-6.15zM3405.7 1004.1h6.15v6.21h-6.15zM3467.3 1004.1h6.15v6.21h-6.15zM3239.6 1010.4h6.15v6.21h-6.15zM3461.1 1010.4h6.15v6.21h-6.15zM3491.9 1010.4h6.15v6.21h-6.15zM3522.6 1010.4h6.15v6.21h-6.15zM3208.9 1016.6h6.15v6.21h-6.15zM3215.0 1016.6h6.15v6.21h-6.15zM3313.5 1016.6h6.15v6.21h-6.15zM3331.9 1016.6h6.15v6.21h-6.15zM3356.5 1016.6h6.15v6.21h-6.15zM3461.1 1016.6h6.15v6.21h-6.15zM3276.5 1022.8h6.15v6.21h-6.15zM3430.4 1022.8h6.15v6.21h-6.15zM3325.8 1029.0h6.15v6.21h-6.15zM3534.9 1029.0h6.15v6.21h-6.15zM3239.6 1035.2h6.15v6.21h-6.15zM3307.3 1035.2h6.15v6.21h-6.15zM3356.5 1035.2h6.15v6.21h-6.15zM3381.1 1035.2h6.15v6.21h-6.15zM3491.9 1035.2h6.15v6.21h-6.15zM3399.6 1041.4h6.15v6.21h-6.15zM3467.3 1041.4h6.15v6.21h-6.15zM3485.7 1041.4h6.15v6.21h-6.15zM3165.8 1047.6h6.15v6.21h-6.15zM3208.9 1047.6h6.15v6.21h-6.15zM3344.2 1047.6h6.15v6.21h-6.15zM3534.9 1047.6h6.15v6.21h-6.15z" fill="#505255"/><path d="M3233.5 867.6h6.15v6.21h-6.15zM3245.8 867.6h6.15v6.21h-6.15zM3251.9 867.6h6.15v6.21h-6.15zM3258.1 867.6h6.15v6.21h-6.15zM3282.7 867.6h6.15v6.21h-6.15zM3301.2 867.6h6.15v6.21h-6.15zM3307.3 867.6h6.15v6.21h-6.15zM3325.8 867.6h6.15v6.21h-6.15zM3338.1 867.6h6.15v6.21h-6.15zM3350.4 867.6h6.15v6.21h-6.15zM3381.1 867.6h6.15v6.21h-6.15zM3455.0 867.6h6.15v6.21h-6.15zM3467.3 867.6h6.15v6.21h-6.15zM3510.3 867.6h6.15v6.21h-6.15zM3178.1 873.8h6.15v6.21h-6.15zM3202.7 873.8h6.15v6.21h-6.15zM3208.9 873.8h6.15v6.21h-6.15zM3215.0 873.8h6.15v6.21h-6.15zM3233.5 873.8h6.15v6.21h-6.15zM3270.4 873.8h6.15v6.21h-6.15zM3288.8 873.8h6.15v6.21h-6.15zM3295.0 873.8h6.15v6.21h-6.15zM3307.3 873.8h6.15v6.21h-6.15zM3313.5 873.8h6.15v6.21h-6.15zM3331.9 873.8h6.15v6.21h-6.15zM3344.2 873.8h6.15v6.21h-6.15zM3442.7 873.8h6.15v6.21h-6.15zM3461.1 873.8h6.15v6.21h-6.15zM3473.4 873.8h6.15v6.21h-6.15zM3510.3 873.8h6.15v6.21h-6.15zM3522.6 873.8h6.15v6.21h-6.15zM3528.8 873.8h6.15v6.21h-6.15zM3534.9 873.8h6.15v6.21h-6.15zM3165.8 880.0h6.15v6.21h-6.15zM3184.3 880.0h6.15v6.21h-6.15zM3190.4 880.0h6.15v6.21h-6.15zM3196.6 880.0h6.15v6.21h-6.15zM3215.0 880.0h6.15v6.21h-6.15zM3233.5 880.0h6.15v6.21h-6.15zM3270.4 880.0h6.15v6.21h-6.15zM3295.0 880.0h6.15v6.21h-6.15zM3307.3 880.0h6.15v6.21h-6.15zM3313.5 880.0h6.15v6.21h-6.15zM3319.6 880.0h6.15v6.21h-6.15zM3325.8 880.0h6.15v6.21h-6.15zM3356.5 880.0h6.15v6.21h-6.15zM3375.0 880.0h6.15v6.21h-6.15zM3381.1 880.0h6.15v6.21h-6.15zM3399.6 880.0h6.15v6.21h-6.15zM3424.2 880.0h6.15v6.21h-6.15zM3473.4 880.0h6.15v6.21h-6.15zM3485.7 880.0h6.15v6.21h-6.15zM3504.2 880.0h6.15v6.21h-6.15zM3522.6 880.0h6.15v6.21h-6.15zM3528.8 880.0h6.15v6.21h-6.15zM3172.0 886.2h6.15v6.21h-6.15zM3178.1 886.2h6.15v6.21h-6.15zM3215.0 886.2h6.15v6.21h-6.15zM3227.3 886.2h6.15v6.21h-6.15zM3239.6 886.2h6.15v6.21h-6.15zM3258.1 886.2h6.15v6.21h-6.15zM3282.7 886.2h6.15v6.21h-6.15zM3295.0 886.2h6.15v6.21h-6.15zM3301.2 886.2h6.15v6.21h-6.15zM3313.5 886.2h6.15v6.21h-6.15zM3338.1 886.2h6.15v6.21h-6.15zM3350.4 886.2h6.15v6.21h-6.15zM3381.1 886.2h6.15v6.21h-6.15zM3455.0 886.2h6.15v6.21h-6.15zM3485.7 886.2h6.15v6.21h-6.15zM3491.9 886.2h6.15v6.21h-6.15zM3498.0 886.2h6.15v6.21h-6.15zM3522.6 886.2h6.15v6.21h-6.15zM3534.9 886.2h6.15v6.21h-6.15zM3196.6 892.4h6.15v6.21h-6.15zM3202.7 892.4h6.15v6.21h-6.15zM3239.6 892.4h6.15v6.21h-6.15zM3264.2 892.4h6.15v6.21h-6.15zM3282.7 892.4h6.15v6.21h-6.15zM3295.0 892.4h6.15v6.21h-6.15zM3307.3 892.4h6.15v6.21h-6.15zM3313.5 892.4h6.15v6.21h-6.15zM3344.2 892.4h6.15v6.21h-6.15zM3350.4 892.4h6.15v6.21h-6.15zM3375.0 892.4h6.15v6.21h-6.15zM3387.3 892.4h6.15v6.21h-6.15zM3473.4 892.4h6.15v6.21h-6.15zM3479.6 892.4h6.15v6.21h-6.15zM3498.0 892.4h6.15v6.21h-6.15zM3504.2 892.4h6.15v6.21h-6.15zM3510.3 892.4h6.15v6.21h-6.15zM3165.8 898.6h6.15v6.21h-6.15zM3178.1 898.6h6.15v6.21h-6.15zM3202.7 898.6h6.15v6.21h-6.15zM3276.5 898.6h6.15v6.21h-6.15zM3295.0 898.6h6.15v6.21h-6.15zM3301.2 898.6h6.15v6.21h-6.15zM3313.5 898.6h6.15v6.21h-6.15zM3319.6 898.6h6.15v6.21h-6.15zM3325.8 898.6h6.15v6.21h-6.15zM3338.1 898.6h6.15v6.21h-6.15zM3350.4 898.6h6.15v6.21h-6.15zM3368.8 898.6h6.15v6.21h-6.15zM3375.0 898.6h6.15v6.21h-6.15zM3381.1 898.6h6.15v6.21h-6.15zM3399.6 898.6h6.15v6.21h-6.15zM3405.7 898.6h6.15v6.21h-6.15zM3442.7 898.6h6.15v6.21h-6.15zM3448.8 898.6h6.15v6.21h-6.15zM3485.7 898.6h6.15v6.21h-6.15zM3516.5 898.6h6.15v6.21h-6.15zM3165.8 904.8h6.15v6.21h-6.15zM3215.0 904.8h6.15v6.21h-6.15zM3227.3 904.8h6.15v6.21h-6.15zM3270.4 904.8h6.15v6.21h-6.15zM3276.5 904.8h6.15v6.21h-6.15zM3301.2 904.8h6.15v6.21h-6.15zM3307.3 904.8h6.15v6.21h-6.15zM3325.8 904.8h6.15v6.21h-6.15zM3338.1 904.8h6.15v6.21h-6.15zM3362.7 904.8h6.15v6.21h-6.15zM3393.4 904.8h6.15v6.21h-6.15zM3405.7 904.8h6.15v6.21h-6.15zM3418.1 904.8h6.15v6.21h-6.15zM3424.2 904.8h6.15v6.21h-6.15zM3448.8 904.8h6.15v6.21h-6.15zM3455.0 904.8h6.15v6.21h-6.15zM3473.4 904.8h6.15v6.21h-6.15zM3485.7 904.8h6.15v6.21h-6.15zM3510.3 904.8h6.15v6.21h-6.15zM3516.5 904.8h6.15v6.21h-6.15zM3522.6 904.8h6.15v6.21h-6.15zM3534.9 904.8h6.15v6.21h-6.15zM3208.9 911.0h6.15v6.21h-6.15zM3239.6 911.0h6.15v6.21h-6.15zM3251.9 911.0h6.15v6.21h-6.15zM3282.7 911.0h6.15v6.21h-6.15zM3295.0 911.0h6.15v6.21h-6.15zM3344.2 911.0h6.15v6.21h-6.15zM3381.1 911.0h6.15v6.21h-6.15zM3387.3 911.0h6.15v6.21h-6.15zM3399.6 911.0h6.15v6.21h-6.15zM3411.9 911.0h6.15v6.21h-6.15zM3467.3 911.0h6.15v6.21h-6.15zM3504.2 911.0h6.15v6.21h-6.15zM3165.8 917.3h6.15v6.21h-6.15zM3184.3 917.3h6.15v6.21h-6.15zM3202.7 917.3h6.15v6.21h-6.15zM3221.2 917.3h6.15v6.21h-6.15zM3227.3 917.3h6.15v6.21h-6.15zM3258.1 917.3h6.15v6.21h-6.15zM3270.4 917.3h6.15v6.21h-6.15zM3295.0 917.3h6.15v6.21h-6.15zM3307.3 917.3h6.15v6.21h-6.15zM3338.1 917.3h6.15v6.21h-6.15zM3344.2 917.3h6.15v6.21h-6.15zM3356.5 917.3h6.15v6.21h-6.15zM3381.1 917.3h6.15v6.21h-6.15zM3387.3 917.3h6.15v6.21h-6.15zM3393.4 917.3h6.15v6.21h-6.15zM3424.2 917.3h6.15v6.21h-6.15zM3473.4 917.3h6.15v6.21h-6.15zM3516.5 917.3h6.15v6.21h-6.15zM3534.9 917.3h6.15v6.21h-6.15zM3165.8 923.5h6.15v6.21h-6.15zM3178.1 923.5h6.15v6.21h-6.15zM3184.3 923.5h6.15v6.21h-6.15zM3202.7 923.5h6.15v6.21h-6.15zM3208.9 923.5h6.15v6.21h-6.15zM3221.2 923.5h6.15v6.21h-6.15zM3233.5 923.5h6.15v6.21h-6.15zM3245.8 923.5h6.15v6.21h-6.15zM3258.1 923.5h6.15v6.21h-6.15zM3319.6 923.5h6.15v6.21h-6.15zM3344.2 923.5h6.15v6.21h-6.15zM3393.4 923.5h6.15v6.21h-6.15zM3424.2 923.5h6.15v6.21h-6.15zM3473.4 923.5h6.15v6.21h-6.15zM3485.7 923.5h6.15v6.21h-6.15zM3504.2 923.5h6.15v6.21h-6.15zM3528.8 923.5h6.15v6.21h-6.15zM3190.4 929.7h6.15v6.21h-6.15zM3196.6 929.7h6.15v6.21h-6.15zM3202.7 929.7h6.15v6.21h-6.15zM3208.9 929.7h6.15v6.21h-6.15zM3215.0 929.7h6.15v6.21h-6.15zM3258.1 929.7h6.15v6.21h-6.15zM3270.4 929.7h6.15v6.21h-6.15zM3295.0 929.7h6.15v6.21h-6.15zM3325.8 929.7h6.15v6.21h-6.15zM3381.1 929.7h6.15v6.21h-6.15zM3424.2 929.7h6.15v6.21h-6.15zM3436.5 929.7h6.15v6.21h-6.15zM3448.8 929.7h6.15v6.21h-6.15zM3184.3 935.9h6.15v6.21h-6.15zM3221.2 935.9h6.15v6.21h-6.15zM3245.8 935.9h6.15v6.21h-6.15zM3264.2 935.9h6.15v6.21h-6.15zM3270.4 935.9h6.15v6.21h-6.15zM3282.7 935.9h6.15v6.21h-6.15zM3295.0 935.9h6.15v6.21h-6.15zM3307.3 935.9h6.15v6.21h-6.15zM3331.9 935.9h6.15v6.21h-6.15zM3344.2 935.9h6.15v6.21h-6.15zM3368.8 935.9h6.15v6.21h-6.15zM3375.0 935.9h6.15v6.21h-6.15zM3387.3 935.9h6.15v6.21h-6.15zM3399.6 935.9h6.15v6.21h-6.15zM3411.9 935.9h6.15v6.21h-6.15zM3424.2 935.9h6.15v6.21h-6.15zM3436.5 935.9h6.15v6.21h-6.15zM3510.3 935.9h6.15v6.21h-6.15zM3534.9 935.9h6.15v6.21h-6.15zM3165.8 942.1h6.15v6.21h-6.15zM3178.1 942.1h6.15v6.21h-6.15zM3190.4 942.1h6.15v6.21h-6.15zM3202.7 942.1h6.15v6.21h-6.15zM3233.5 942.1h6.15v6.21h-6.15zM3258.1 942.1h6.15v6.21h-6.15zM3301.2 942.1h6.15v6.21h-6.15zM3313.5 942.1h6.15v6.21h-6.15zM3325.8 942.1h6.15v6.21h-6.15zM3356.5 942.1h6.15v6.21h-6.15zM3375.0 942.1h6.15v6.21h-6.15zM3387.3 942.1h6.15v6.21h-6.15zM3393.4 942.1h6.15v6.21h-6.15zM3405.7 942.1h6.15v6.21h-6.15zM3455.0 942.1h6.15v6.21h-6.15zM3467.3 942.1h6.15v6.21h-6.15zM3491.9 942.1h6.15v6.21h-6.15zM3516.5 942.1h6.15v6.21h-6.15zM3522.6 942.1h6.15v6.21h-6.15zM3165.8 948.3h6.15v6.21h-6.15zM3172.0 948.3h6.15v6.21h-6.15zM3196.6 948.3h6.15v6.21h-6.15zM3245.8 948.3h6.15v6.21h-6.15zM3251.9 948.3h6.15v6.21h-6.15zM3276.5 948.3h6.15v6.21h-6.15zM3325.8 948.3h6.15v6.21h-6.15zM3331.9 948.3h6.15v6.21h-6.15zM3344.2 948.3h6.15v6.21h-6.15zM3350.4 948.3h6.15v6.21h-6.15zM3393.4 948.3h6.15v6.21h-6.15zM3399.6 948.3h6.15v6.21h-6.15zM3405.7 948.3h6.15v6.21h-6.15zM3424.2 948.3h6.15v6.21h-6.15zM3436.5 948.3h6.15v6.21h-6.15zM3485.7 948.3h6.15v6.21h-6.15zM3491.9 948.3h6.15v6.21h-6.15zM3504.2 948.3h6.15v6.21h-6.15zM3522.6 948.3h6.15v6.21h-6.15zM3534.9 948.3h6.15v6.21h-6.15zM3172.0 954.5h6.15v6.21h-6.15zM3190.4 954.5h6.15v6.21h-6.15zM3208.9 954.5h6.15v6.21h-6.15zM3239.6 954.5h6.15v6.21h-6.15zM3258.1 954.5h6.15v6.21h-6.15zM3264.2 954.5h6.15v6.21h-6.15zM3338.1 954.5h6.15v6.21h-6.15zM3350.4 954.5h6.15v6.21h-6.15zM3381.1 954.5h6.15v6.21h-6.15zM3393.4 954.5h6.15v6.21h-6.15zM3424.2 954.5h6.15v6.21h-6.15zM3467.3 954.5h6.15v6.21h-6.15zM3485.7 954.5h6.15v6.21h-6.15zM3498.0 954.5h6.15v6.21h-6.15zM3215.0 960.7h6.15v6.21h-6.15zM3227.3 960.7h6.15v6.21h-6.15zM3233.5 960.7h6.15v6.21h-6.15zM3258.1 960.7h6.15v6.21h-6.15zM3276.5 960.7h6.15v6.21h-6.15zM3319.6 960.7h6.15v6.21h-6.15zM3331.9 960.7h6.15v6.21h-6.15zM3338.1 960.7h6.15v6.21h-6.15zM3344.2 960.7h6.15v6.21h-6.15zM3381.1 960.7h6.15v6.21h-6.15zM3393.4 960.7h6.15v6.21h-6.15zM3399.6 960.7h6.15v6.21h-6.15zM3424.2 960.7h6.15v6.21h-6.15zM3436.5 960.7h6.15v6.21h-6.15zM3442.7 960.7h6.15v6.21h-6.15zM3455.0 960.7h6.15v6.21h-6.15zM3461.1 960.7h6.15v6.21h-6.15zM3479.6 960.7h6.15v6.21h-6.15zM3498.0 960.7h6.15v6.21h-6.15zM3504.2 960.7h6.15v6.21h-6.15zM3165.8 966.9h6.15v6.21h-6.15zM3190.4 966.9h6.15v6.21h-6.15zM3270.4 966.9h6.15v6.21h-6.15zM3276.5 966.9h6.15v6.21h-6.15zM3301.2 966.9h6.15v6.21h-6.15zM3313.5 966.9h6.15v6.21h-6.15zM3319.6 966.9h6.15v6.21h-6.15zM3350.4 966.9h6.15v6.21h-6.15zM3356.5 966.9h6.15v6.21h-6.15zM3368.8 966.9h6.15v6.21h-6.15zM3405.7 966.9h6.15v6.21h-6.15zM3418.1 966.9h6.15v6.21h-6.15zM3424.2 966.9h6.15v6.21h-6.15zM3442.7 966.9h6.15v6.21h-6.15zM3448.8 966.9h6.15v6.21h-6.15zM3455.0 966.9h6.15v6.21h-6.15zM3473.4 966.9h6.15v6.21h-6.15zM3479.6 966.9h6.15v6.21h-6.15zM3498.0 966.9h6.15v6.21h-6.15zM3504.2 966.9h6.15v6.21h-6.15zM3510.3 966.9h6.15v6.21h-6.15zM3516.5 966.9h6.15v6.21h-6.15zM3522.6 966.9h6.15v6.21h-6.15zM3528.8 966.9h6.15v6.21h-6.15zM3196.6 973.1h6.15v6.21h-6.15zM3239.6 973.1h6.15v6.21h-6.15zM3245.8 973.1h6.15v6.21h-6.15zM3282.7 973.1h6.15v6.21h-6.15zM3295.0 973.1h6.15v6.21h-6.15zM3301.2 973.1h6.15v6.21h-6.15zM3307.3 973.1h6.15v6.21h-6.15zM3319.6 973.1h6.15v6.21h-6.15zM3362.7 973.1h6.15v6.21h-6.15zM3381.1 973.1h6.15v6.21h-6.15zM3387.3 973.1h6.15v6.21h-6.15zM3405.7 973.1h6.15v6.21h-6.15zM3436.5 973.1h6.15v6.21h-6.15zM3448.8 973.1h6.15v6.21h-6.15zM3461.1 973.1h6.15v6.21h-6.15zM3467.3 973.1h6.15v6.21h-6.15zM3485.7 973.1h6.15v6.21h-6.15zM3498.0 973.1h6.15v6.21h-6.15zM3522.6 973.1h6.15v6.21h-6.15zM3165.8 979.3h6.15v6.21h-6.15zM3196.6 979.3h6.15v6.21h-6.15zM3233.5 979.3h6.15v6.21h-6.15zM3239.6 979.3h6.15v6.21h-6.15zM3276.5 979.3h6.15v6.21h-6.15zM3301.2 979.3h6.15v6.21h-6.15zM3313.5 979.3h6.15v6.21h-6.15zM3350.4 979.3h6.15v6.21h-6.15zM3375.0 979.3h6.15v6.21h-6.15zM3405.7 979.3h6.15v6.21h-6.15zM3411.9 979.3h6.15v6.21h-6.15zM3448.8 979.3h6.15v6.21h-6.15zM3461.1 979.3h6.15v6.21h-6.15zM3473.4 979.3h6.15v6.21h-6.15zM3485.7 979.3h6.15v6.21h-6.15zM3510.3 979.3h6.15v6.21h-6.15zM3528.8 979.3h6.15v6.21h-6.15zM3534.9 979.3h6.15v6.21h-6.15zM3165.8 985.5h6.15v6.21h-6.15zM3172.0 985.5h6.15v6.21h-6.15zM3184.3 985.5h6.15v6.21h-6.15zM3221.2 985.5h6.15v6.21h-6.15zM3227.3 985.5h6.15v6.21h-6.15zM3282.7 985.5h6.15v6.21h-6.15zM3301.2 985.5h6.15v6.21h-6.15zM3307.3 985.5h6.15v6.21h-6.15zM3313.5 985.5h6.15v6.21h-6.15zM3331.9 985.5h6.15v6.21h-6.15zM3338.1 985.5h6.15v6.21h-6.15zM3344.2 985.5h6.15v6.21h-6.15zM3350.4 985.5h6.15v6.21h-6.15zM3375.0 985.5h6.15v6.21h-6.15zM3381.1 985.5h6.15v6.21h-6.15zM3405.7 985.5h6.15v6.21h-6.15zM3411.9 985.5h6.15v6.21h-6.15zM3424.2 985.5h6.15v6.21h-6.15zM3448.8 985.5h6.15v6.21h-6.15zM3473.4 985.5h6.15v6.21h-6.15zM3479.6 985.5h6.15v6.21h-6.15zM3208.9 991.7h6.15v6.21h-6.15zM3215.0 991.7h6.15v6.21h-6.15zM3221.2 991.7h6.15v6.21h-6.15zM3227.3 991.7h6.15v6.21h-6.15zM3258.1 991.7h6.15v6.21h-6.15zM3295.0 991.7h6.15v6.21h-6.15zM3313.5 991.7h6.15v6.21h-6.15zM3319.6 991.7h6.15v6.21h-6.15zM3350.4 991.7h6.15v6.21h-6.15zM3399.6 991.7h6.15v6.21h-6.15zM3436.5 991.7h6.15v6.21h-6.15zM3455.0 991.7h6.15v6.21h-6.15zM3479.6 991.7h6.15v6.21h-6.15zM3498.0 991.7h6.15v6.21h-6.15zM3504.2 991.7h6.15v6.21h-6.15zM3510.3 991.7h6.15v6.21h-6.15zM3516.5 991.7h6.15v6.21h-6.15zM3208.9 997.9h6.15v6.21h-6.15zM3245.8 997.9h6.15v6.21h-6.15zM3251.9 997.9h6.15v6.21h-6.15zM3313.5 997.9h6.15v6.21h-6.15zM3325.8 997.9h6.15v6.21h-6.15zM3331.9 997.9h6.15v6.21h-6.15zM3350.4 997.9h6.15v6.21h-6.15zM3362.7 997.9h6.15v6.21h-6.15zM3411.9 997.9h6.15v6.21h-6.15zM3424.2 997.9h6.15v6.21h-6.15zM3430.4 997.9h6.15v6.21h-6.15zM3467.3 997.9h6.15v6.21h-6.15zM3485.7 997.9h6.15v6.21h-6.15zM3510.3 997.9h6.15v6.21h-6.15zM3534.9 997.9h6.15v6.21h-6.15zM3178.1 1004.1h6.15v6.21h-6.15zM3245.8 1004.1h6.15v6.21h-6.15zM3258.1 1004.1h6.15v6.21h-6.15zM3264.2 1004.1h6.15v6.21h-6.15zM3276.5 1004.1h6.15v6.21h-6.15zM3288.8 1004.1h6.15v6.21h-6.15zM3319.6 1004.1h6.15v6.21h-6.15zM3393.4 1004.1h6.15v6.21h-6.15zM3418.1 1004.1h6.15v6.21h-6.15zM3448.8 1004.1h6.15v6.21h-6.15zM3473.4 1004.1h6.15v6.21h-6.15zM3479.6 1004.1h6.15v6.21h-6.15zM3485.7 1004.1h6.15v6.21h-6.15zM3498.0 1004.1h6.15v6.21h-6.15zM3504.2 1004.1h6.15v6.21h-6.15zM3534.9 1004.1h6.15v6.21h-6.15zM3184.3 1010.4h6.15v6.21h-6.15zM3196.6 1010.4h6.15v6.21h-6.15zM3221.2 1010.4h6.15v6.21h-6.15zM3227.3 1010.4h6.15v6.21h-6.15zM3251.9 1010.4h6.15v6.21h-6.15zM3270.4 1010.4h6.15v6.21h-6.15zM3307.3 1010.4h6.15v6.21h-6.15zM3313.5 1010.4h6.15v6.21h-6.15zM3350.4 1010.4h6.15v6.21h-6.15zM3368.8 1010.4h6.15v6.21h-6.15zM3442.7 1010.4h6.15v6.21h-6.15zM3473.4 1010.4h6.15v6.21h-6.15zM3479.6 1010.4h6.15v6.21h-6.15zM3516.5 1010.4h6.15v6.21h-6.15zM3196.6 1016.6h6.15v6.21h-6.15zM3202.7 1016.6h6.15v6.21h-6.15zM3227.3 1016.6h6.15v6.21h-6.15zM3258.1 1016.6h6.15v6.21h-6.15zM3276.5 1016.6h6.15v6.21h-6.15zM3282.7 1016.6h6.15v6.21h-6.15zM3338.1 1016.6h6.15v6.21h-6.15zM3350.4 1016.6h6.15v6.21h-6.15zM3368.8 1016.6h6.15v6.21h-6.15zM3375.0 1016.6h6.15v6.21h-6.15zM3405.7 1016.6h6.15v6.21h-6.15zM3436.5 1016.6h6.15v6.21h-6.15zM3455.0 1016.6h6.15v6.21h-6.15zM3467.3 1016.6h6.15v6.21h-6.15zM3491.9 1016.6h6.15v6.21h-6.15zM3498.0 1016.6h6.15v6.21h-6.15zM3522.6 1016.6h6.15v6.21h-6.15zM3178.1 1022.8h6.15v6.21h-6.15zM3190.4 1022.8h6.15v6.21h-6.15zM3227.3 1022.8h6.15v6.21h-6.15zM3233.5 1022.8h6.15v6.21h-6.15zM3251.9 1022.8h6.15v6.21h-6.15zM3258.1 1022.8h6.15v6.21h-6.15zM3264.2 1022.8h6.15v6.21h-6.15zM3307.3 1022.8h6.15v6.21h-6.15zM3325.8 1022.8h6.15v6.21h-6.15zM3344.2 1022.8h6.15v6.21h-6.15zM3368.8 1022.8h6.15v6.21h-6.15zM3375.0 1022.8h6.15v6.21h-6.15zM3387.3 1022.8h6.15v6.21h-6.15zM3411.9 1022.8h6.15v6.21h-6.15zM3418.1 1022.8h6.15v6.21h-6.15zM3461.1 1022.8h6.15v6.21h-6.15zM3485.7 1022.8h6.15v6.21h-6.15zM3498.0 1022.8h6.15v6.21h-6.15zM3510.3 1022.8h6.15v6.21h-6.15zM3516.5 1022.8h6.15v6.21h-6.15zM3528.8 1022.8h6.15v6.21h-6.15zM3233.5 1029.0h6.15v6.21h-6.15zM3245.8 1029.0h6.15v6.21h-6.15zM3251.9 1029.0h6.15v6.21h-6.15zM3270.4 1029.0h6.15v6.21h-6.15zM3276.5 1029.0h6.15v6.21h-6.15zM3301.2 1029.0h6.15v6.21h-6.15zM3356.5 1029.0h6.15v6.21h-6.15zM3362.7 1029.0h6.15v6.21h-6.15zM3368.8 1029.0h6.15v6.21h-6.15zM3424.2 1029.0h6.15v6.21h-6.15zM3430.4 1029.0h6.15v6.21h-6.15zM3455.0 1029.0h6.15v6.21h-6.15zM3473.4 1029.0h6.15v6.21h-6.15zM3491.9 1029.0h6.15v6.21h-6.15zM3504.2 1029.0h6.15v6.21h-6.15zM3516.5 1029.0h6.15v6.21h-6.15zM3528.8 1029.0h6.15v6.21h-6.15zM3178.1 1035.2h6.15v6.21h-6.15zM3202.7 1035.2h6.15v6.21h-6.15zM3227.3 1035.2h6.15v6.21h-6.15zM3251.9 1035.2h6.15v6.21h-6.15zM3276.5 1035.2h6.15v6.21h-6.15zM3282.7 1035.2h6.15v6.21h-6.15zM3288.8 1035.2h6.15v6.21h-6.15zM3325.8 1035.2h6.15v6.21h-6.15zM3338.1 1035.2h6.15v6.21h-6.15zM3393.4 1035.2h6.15v6.21h-6.15zM3411.9 1035.2h6.15v6.21h-6.15zM3461.1 1035.2h6.15v6.21h-6.15zM3479.6 1035.2h6.15v6.21h-6.15zM3504.2 1035.2h6.15v6.21h-6.15zM3178.1 1041.4h6.15v6.21h-6.15zM3184.3 1041.4h6.15v6.21h-6.15zM3196.6 1041.4h6.15v6.21h-6.15zM3202.7 1041.4h6.15v6.21h-6.15zM3245.8 1041.4h6.15v6.21h-6.15zM3251.9 1041.4h6.15v6.21h-6.15zM3270.4 1041.4h6.15v6.21h-6.15zM3288.8 1041.4h6.15v6.21h-6.15zM3295.0 1041.4h6.15v6.21h-6.15zM3313.5 1041.4h6.15v6.21h-6.15zM3325.8 1041.4h6.15v6.21h-6.15zM3331.9 1041.4h6.15v6.21h-6.15zM3362.7 1041.4h6.15v6.21h-6.15zM3375.0 1041.4h6.15v6.21h-6.15zM3393.4 1041.4h6.15v6.21h-6.15zM3491.9 1041.4h6.15v6.21h-6.15zM3534.9 1041.4h6.15v6.21h-6.15zM3196.6 1047.6h6.15v6.21h-6.15zM3221.2 1047.6h6.15v6.21h-6.15zM3227.3 1047.6h6.15v6.21h-6.15zM3239.6 1047.6h6.15v6.21h-6.15zM3251.9 1047.6h6.15v6.21h-6.15zM3258.1 1047.6h6.15v6.21h-6.15zM3301.2 1047.6h6.15v6.21h-6.15zM3313.5 1047.6h6.15v6.21h-6.15zM3319.6 1047.6h6.15v6.21h-6.15zM3368.8 1047.6h6.15v6.21h-6.15zM3399.6 1047.6h6.15v6.21h-6.15zM3405.7 1047.6h6.15v6.21h-6.15zM3430.4 1047.6h6.15v6.21h-6.15zM3436.5 1047.6h6.15v6.21h-6.15zM3442.7 1047.6h6.15v6.21h-6.15zM3467.3 1047.6h6.15v6.21h-6.15zM3485.7 1047.6h6.15v6.21h-6.15zM3491.9 1047.6h6.15v6.21h-6.15z" fill="#060608"/><path d="M3172.0 873.8h6.15v6.21h-6.15zM3411.9 873.8h6.15v6.21h-6.15zM3424.2 873.8h6.15v6.21h-6.15zM3405.7 880.0h6.15v6.21h-6.15zM3491.9 880.0h6.15v6.21h-6.15zM3510.3 880.0h6.15v6.21h-6.15zM3196.6 886.2h6.15v6.21h-6.15zM3418.1 886.2h6.15v6.21h-6.15zM3270.4 892.4h6.15v6.21h-6.15zM3325.8 892.4h6.15v6.21h-6.15zM3338.1 892.4h6.15v6.21h-6.15zM3227.3 898.6h6.15v6.21h-6.15zM3264.2 898.6h6.15v6.21h-6.15zM3356.5 898.6h6.15v6.21h-6.15zM3430.4 898.6h6.15v6.21h-6.15zM3467.3 898.6h6.15v6.21h-6.15zM3264.2 904.8h6.15v6.21h-6.15zM3264.2 911.0h6.15v6.21h-6.15zM3467.3 917.3h6.15v6.21h-6.15zM3387.3 923.5h6.15v6.21h-6.15zM3288.8 929.7h6.15v6.21h-6.15zM3350.4 929.7h6.15v6.21h-6.15zM3485.7 929.7h6.15v6.21h-6.15zM3516.5 929.7h6.15v6.21h-6.15zM3270.4 942.1h6.15v6.21h-6.15zM3528.8 942.1h6.15v6.21h-6.15zM3258.1 948.3h6.15v6.21h-6.15zM3301.2 948.3h6.15v6.21h-6.15zM3498.0 948.3h6.15v6.21h-6.15zM3221.2 954.5h6.15v6.21h-6.15zM3165.8 960.7h6.15v6.21h-6.15zM3202.7 960.7h6.15v6.21h-6.15zM3288.8 960.7h6.15v6.21h-6.15zM3405.7 960.7h6.15v6.21h-6.15zM3196.6 966.9h6.15v6.21h-6.15zM3202.7 966.9h6.15v6.21h-6.15zM3393.4 973.1h6.15v6.21h-6.15zM3264.2 979.3h6.15v6.21h-6.15zM3295.0 979.3h6.15v6.21h-6.15zM3455.0 979.3h6.15v6.21h-6.15zM3295.0 985.5h6.15v6.21h-6.15zM3196.6 991.7h6.15v6.21h-6.15zM3276.5 991.7h6.15v6.21h-6.15zM3239.6 997.9h6.15v6.21h-6.15zM3461.1 1004.1h6.15v6.21h-6.15zM3522.6 1004.1h6.15v6.21h-6.15zM3528.8 1004.1h6.15v6.21h-6.15zM3233.5 1010.4h6.15v6.21h-6.15zM3362.7 1010.4h6.15v6.21h-6.15zM3411.9 1010.4h6.15v6.21h-6.15zM3165.8 1016.6h6.15v6.21h-6.15zM3473.4 1016.6h6.15v6.21h-6.15zM3528.8 1016.6h6.15v6.21h-6.15zM3295.0 1022.8h6.15v6.21h-6.15zM3227.3 1029.0h6.15v6.21h-6.15zM3393.4 1029.0h6.15v6.21h-6.15zM3436.5 1035.2h6.15v6.21h-6.15zM3528.8 1035.2h6.15v6.21h-6.15z" fill="#3e4043"/><path d="M3350.4 917.3h6.15v6.21h-6.15zM3233.5 929.7h6.15v6.21h-6.15zM3344.2 929.7h6.15v6.21h-6.15zM3430.4 929.7h6.15v6.21h-6.15zM3510.3 960.7h6.15v6.21h-6.15zM3258.1 966.9h6.15v6.21h-6.15zM3270.4 985.5h6.15v6.21h-6.15zM3325.8 991.7h6.15v6.21h-6.15zM3418.1 1010.4h6.15v6.21h-6.15zM3418.1 1016.6h6.15v6.21h-6.15zM3190.4 1029.0h6.15v6.21h-6.15zM3270.4 1035.2h6.15v6.21h-6.15zM3344.2 1041.4h6.15v6.21h-6.15z" fill="#6a6c6f"/></svg>
<div class="b" style="left:24.40px;top:1246.30px;width:3757.20px;height:472.50px;background:#1e2124;border-radius:8px;overflow:hidden;"><div class="b" style="left:0;top:0;right:0;bottom:0;border-radius:inherit;box-shadow:inset 0 0 0 1.5px #2d2f35"></div></div>
<span class="t" style="left:36.02px;top:1262.00px;font-size:22.3px;line-height:22.3px;color:#d0d0df;letter-spacing:1.169px;-webkit-text-stroke:0.4px #d0d0df;">Estimated Monthly Cost by Instance Type</span>
<svg class="b" style="left:516.20px;top:1260.20px;" width="25.00" height="25.00" viewBox="516.20 1260.20 25.00 25.00"><circle cx="528.7" cy="1272.7" r="9.50" fill="none" stroke="#9c9dab" stroke-width="2"/><path d="M528.7 1273.40V1276.70" stroke="#9c9dab" stroke-width="2.2" stroke-linecap="round"/><circle cx="528.7" cy="1269.20" r="1.3" fill="#9c9dab"/></svg>
<div class="b" style="left:37.00px;top:1354.00px;width:3168.00px;height:2.00px;background:#292b31;"></div>
<div class="b" style="left:37.00px;top:1411.00px;width:3168.00px;height:2.00px;background:#292b31;"></div>
<div class="b" style="left:37.00px;top:1469.00px;width:3168.00px;height:2.00px;background:#292b31;"></div>
<div class="b" style="left:37.00px;top:1526.00px;width:3168.00px;height:2.00px;background:#292b31;"></div>
<div class="b" style="left:37.00px;top:1584.00px;width:3168.00px;height:2.00px;background:#292b31;"></div>
<div class="b" style="left:782.00px;top:1311.00px;width:1.00px;height:274.00px;background:#2e2f36;"></div>
<div class="b" style="left:1528.00px;top:1311.00px;width:1.00px;height:274.00px;background:#2e2f36;"></div>
<div class="b" style="left:2274.00px;top:1311.00px;width:1.00px;height:274.00px;background:#2e2f36;"></div>
<div class="b" style="left:3020.00px;top:1311.00px;width:1.00px;height:274.00px;background:#2e2f36;"></div>
<span class="t" style="left:44.69px;top:1316.00px;font-size:22.3px;line-height:22.3px;color:#9c9da6;letter-spacing:1.465px;-webkit-text-stroke:0.35px #9c9da6;">Instance Type</span>
<span class="t" style="left:791.38px;top:1316.00px;font-size:22.3px;line-height:22.3px;color:#9c9da6;letter-spacing:1.519px;-webkit-text-stroke:0.35px #9c9da6;">Capacity Type</span>
<span class="t" style="left:1967.92px;top:1316.00px;font-size:22.3px;line-height:22.3px;color:#9c9da6;letter-spacing:1.179px;-webkit-text-stroke:0.35px #9c9da6;">Estimated Monthly Cost</span>
<svg class="b" style="left:2240.00px;top:1317.00px;" width="20.00" height="21.00" viewBox="2240.00 1317.00 20.00 21.00"><g fill="none" stroke="#9c9da6" stroke-width="2.1" stroke-linecap="round" stroke-linejoin="round"><path d="M2250 1321V1333.5M2244.6 1328.4L2250 1333.8L2255.4 1328.4"/></g></svg>
<span class="t" style="left:2720.72px;top:1316.00px;font-size:22.3px;line-height:22.3px;color:#9c9da6;letter-spacing:1.264px;-webkit-text-stroke:0.35px #9c9da6;">Monthly Cost per Instance</span>
<span class="t" style="left:3028.49px;top:1316.00px;font-size:22.3px;line-height:22.3px;color:#9c9da6;letter-spacing:1.274px;-webkit-text-stroke:0.35px #9c9da6;">Instance Count</span>
<span class="t" style="left:45.77px;top:1372.00px;font-size:23.19px;line-height:23.19px;color:#d0d0df;letter-spacing:0.687px;">c7g.xlarge</span>
<span class="t" style="left:791.57px;top:1372.00px;font-size:23.19px;line-height:23.19px;color:#d0d0df;letter-spacing:1.165px;">on-demand</span>
<span class="t" style="left:2213.50px;top:1372.00px;font-size:23.19px;line-height:23.19px;color:#d0d0df;letter-spacing:-0.372px;">$212</span>
<span class="t" style="left:2959.80px;top:1372.00px;font-size:23.19px;line-height:23.19px;color:#d0d0df;letter-spacing:-0.411px;">$106</span>
<span class="t" style="left:3183.17px;top:1372.00px;font-size:23.19px;line-height:23.19px;color:#d0d0df;">2</span>
<span class="t" style="left:45.77px;top:1429.00px;font-size:23.19px;line-height:23.19px;color:#d0d0df;letter-spacing:0.673px;">c7g.large</span>
<span class="t" style="left:791.57px;top:1429.00px;font-size:23.19px;line-height:23.19px;color:#d0d0df;letter-spacing:1.165px;">on-demand</span>
<span class="t" style="left:2213.50px;top:1429.00px;font-size:23.19px;line-height:23.19px;color:#d0d0df;letter-spacing:-0.372px;">$159</span>
<span class="t" style="left:2948.20px;top:1429.00px;font-size:23.19px;line-height:23.19px;color:#d0d0df;letter-spacing:1.009px;">$52.9</span>
<span class="t" style="left:3183.06px;top:1429.00px;font-size:23.19px;line-height:23.19px;color:#d0d0df;">3</span>
<span class="t" style="left:45.19px;top:1487.00px;font-size:23.19px;line-height:23.19px;color:#d0d0df;letter-spacing:0.654px;">m7gd.xlarge</span>
<span class="t" style="left:791.57px;top:1487.00px;font-size:23.19px;line-height:23.19px;color:#d0d0df;letter-spacing:1.165px;">on-demand</span>
<span class="t" style="left:2213.50px;top:1487.00px;font-size:23.19px;line-height:23.19px;color:#d0d0df;letter-spacing:-0.411px;">$156</span>
<span class="t" style="left:2959.80px;top:1487.00px;font-size:23.19px;line-height:23.19px;color:#d0d0df;letter-spacing:-0.411px;">$156</span>
<span class="t" style="left:3183.17px;top:1487.00px;font-size:23.19px;line-height:23.19px;color:#d0d0df;">1</span>
<span class="t" style="left:45.19px;top:1545.00px;font-size:23.19px;line-height:23.19px;color:#d0d0df;letter-spacing:0.642px;">m7g.large</span>
<span class="t" style="left:791.57px;top:1545.00px;font-size:23.19px;line-height:23.19px;color:#d0d0df;letter-spacing:1.165px;">on-demand</span>
<span class="t" style="left:2216.54px;top:1545.00px;font-size:23.19px;line-height:23.19px;color:#d0d0df;letter-spacing:-0.812px;">$119</span>
<span class="t" style="left:2948.20px;top:1545.00px;font-size:23.19px;line-height:23.19px;color:#d0d0df;letter-spacing:0.980px;">$59.6</span>
<span class="t" style="left:3183.17px;top:1545.00px;font-size:23.19px;line-height:23.19px;color:#d0d0df;">2</span>
<div class="b" style="left:1716.00px;top:1666.10px;width:49.70px;height:39.10px;background:#24262a;border-radius:8px;"></div>
<svg class="b" style="left:1735.57px;top:1678.35px;" width="10.87" height="14.90" viewBox="1735.57 1678.35 10.87 14.90"><g fill="none" stroke="#9c9da6" stroke-width="2.3" stroke-linecap="round" stroke-linejoin="round"><path d="M1743.43 1681.35L1738.57 1685.80L1743.43 1690.25"/></g></svg>
<div class="b" style="left:1781.90px;top:1666.10px;width:33.10px;height:39.10px;background:#3d71d9;border-radius:8px;"></div>
<span class="t" style="left:1792.71px;top:1676.00px;font-size:19.1px;line-height:19.1px;color:#ffffff;-webkit-text-stroke:0.3px #ffffff;">1</span>
<div class="b" style="left:1830.90px;top:1666.10px;width:36.10px;height:39.10px;background:#2d2f34;border-radius:8px;"><div class="b" style="left:0;top:0;right:0;bottom:0;border-radius:inherit;box-shadow:inset 0 0 0 1.5px #34363b"></div></div>
<span class="t" style="left:1843.65px;top:1676.00px;font-size:19.1px;line-height:19.1px;color:#d0d0df;-webkit-text-stroke:0.3px #d0d0df;">2</span>
<div class="b" style="left:1883.00px;top:1666.10px;width:49.90px;height:39.10px;background:#2d2f34;border-radius:8px;"><div class="b" style="left:0;top:0;right:0;bottom:0;border-radius:inherit;box-shadow:inset 0 0 0 1.5px #34363b"></div></div>
<svg class="b" style="left:1902.27px;top:1678.35px;" width="10.87" height="14.90" viewBox="1902.27 1678.35 10.87 14.90"><g fill="none" stroke="#d0d0df" stroke-width="2.3" stroke-linecap="round" stroke-linejoin="round"><path d="M1905.27 1681.35L1910.13 1685.80L1905.27 1690.25"/></g></svg>
<span class="t" style="left:1957.21px;top:1680.00px;font-size:19.86px;line-height:19.86px;color:#9c9da6;letter-spacing:0.647px;">1 - 4 of 8 rows</span>
<div class="b" style="left:3808.00px;top:0.00px;width:24.00px;height:1759.00px;background:#2f2f2f;"></div>
<div class="b" style="left:3812.70px;top:-20.00px;width:14.30px;height:1013.80px;background:#a0a0a0;border-radius:7.2px;"></div>
<svg class="b" style="left:3810.00px;top:1739.00px;" width="20.00" height="12.00" viewBox="3810.00 1739.00 20.00 12.00"><polygon points="3811.6,1740.9 3828.3,1740.9 3819.95,1749.3" fill="#a0a0a0"/></svg>
<div class="b" style="left:3832.00px;top:0.00px;width:3.00px;height:1762.00px;background:#707070;"></div>
<div class="b" style="left:0.00px;top:1759.00px;width:3835.00px;height:3.00px;background:#747474;"></div>
</main></body></html>
